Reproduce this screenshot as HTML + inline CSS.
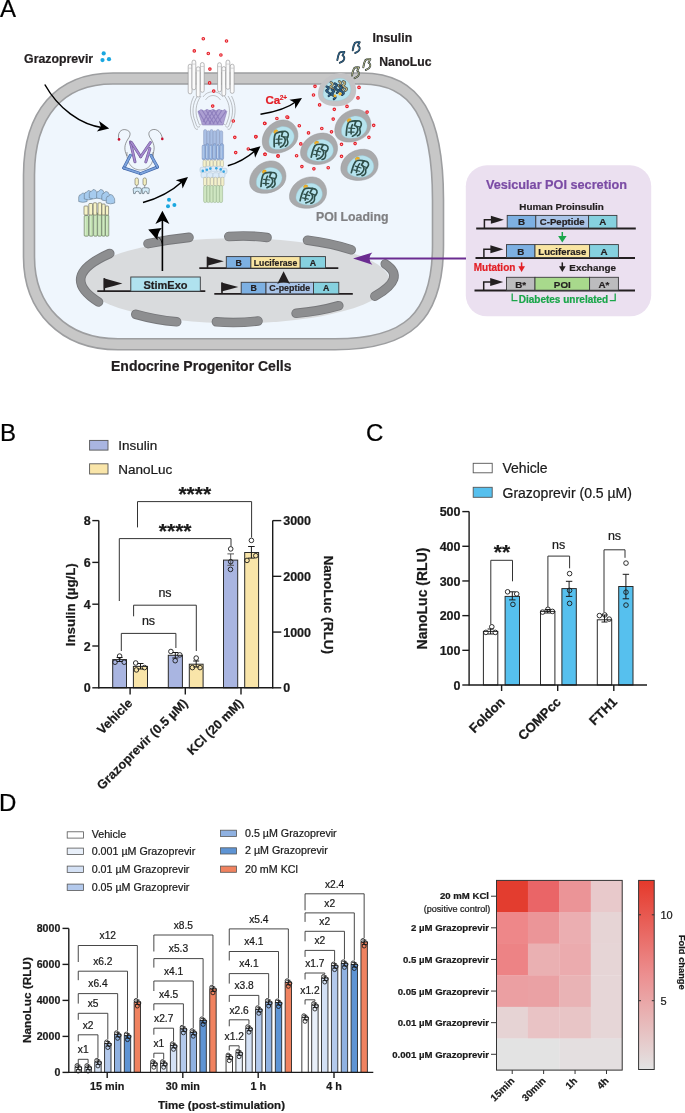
<!DOCTYPE html>
<html><head><meta charset="utf-8"><style>
html,body{margin:0;padding:0;background:#fff;-webkit-font-smoothing:antialiased;}
svg{display:block;will-change:transform;}
text{font-family:"Liberation Sans",sans-serif;}
</style></head><body>
<svg width="685" height="1113" viewBox="0 0 685 1113" font-family="Liberation Sans, sans-serif">
<rect width="685" height="1113" fill="#fff"/>
<text x="0.00" y="17.00" font-size="24" text-anchor="start" fill="#000" stroke="#000" stroke-width="0.22" >A</text>
<text x="24.10" y="63.40" font-size="12.3" font-weight="bold" text-anchor="start" fill="#231f20" stroke="#231f20" stroke-width="0.22" >Grazoprevir</text>
<circle cx="103.70" cy="53.40" r="2.1" fill="#1aa7e0" stroke="none" stroke-width="1" />
<circle cx="102.50" cy="60.10" r="2.1" fill="#1aa7e0" stroke="none" stroke-width="1" />
<circle cx="109.00" cy="59.20" r="2.1" fill="#1aa7e0" stroke="none" stroke-width="1" />
<path d="M29,175 C29,114 59.5,78.5 113,78.5 L362,78.5 C417,78.5 438,118 438,200 L438,245 C438,318 407,344.3 335,344.3 L118,344.3 C63,344.3 29,308 29,257 Z" fill="#eff6fd" stroke="#9d9ea0" stroke-width="12.6" />
<path d="M29,175 C29,114 59.5,78.5 113,78.5 L362,78.5 C417,78.5 438,118 438,200 L438,245 C438,318 407,344.3 335,344.3 L118,344.3 C63,344.3 29,308 29,257 Z" fill="none" stroke="#c7c7c7" stroke-width="9.4" />
<ellipse cx="236.5" cy="280.8" rx="153" ry="42.5" fill="#d9dbdd"/>
<path d="M109.7,253.5 Q57.90,276.25 98.5,302" fill="none" stroke="#76777a" stroke-width="9.6" stroke-linecap="round"/>
<path d="M109.7,253.5 Q57.90,276.25 98.5,302" fill="none" stroke="#8d8e90" stroke-width="7.8" stroke-linecap="round"/>
<path d="M148,243.6 Q168.50,239.50 189,237.4" fill="none" stroke="#76777a" stroke-width="9.6" stroke-linecap="round"/>
<path d="M148,243.6 Q168.50,239.50 189,237.4" fill="none" stroke="#8d8e90" stroke-width="7.8" stroke-linecap="round"/>
<path d="M228.8,236.5 Q248.10,235.00 267,237.5" fill="none" stroke="#76777a" stroke-width="9.6" stroke-linecap="round"/>
<path d="M228.8,236.5 Q248.10,235.00 267,237.5" fill="none" stroke="#8d8e90" stroke-width="7.8" stroke-linecap="round"/>
<path d="M307.5,240.2 Q330.65,243.05 351.2,249.7" fill="none" stroke="#76777a" stroke-width="9.6" stroke-linecap="round"/>
<path d="M307.5,240.2 Q330.65,243.05 351.2,249.7" fill="none" stroke="#8d8e90" stroke-width="7.8" stroke-linecap="round"/>
<path d="M385.3,263.9 Q406.90,277.95 374.9,296.2" fill="none" stroke="#76777a" stroke-width="9.6" stroke-linecap="round"/>
<path d="M385.3,263.9 Q406.90,277.95 374.9,296.2" fill="none" stroke="#8d8e90" stroke-width="7.8" stroke-linecap="round"/>
<path d="M296.1,313.3 Q318.55,311.50 338.8,305.7" fill="none" stroke="#76777a" stroke-width="9.6" stroke-linecap="round"/>
<path d="M296.1,313.3 Q318.55,311.50 338.8,305.7" fill="none" stroke="#8d8e90" stroke-width="7.8" stroke-linecap="round"/>
<path d="M216.4,321.8 Q236.80,323.60 258,321" fill="none" stroke="#76777a" stroke-width="9.6" stroke-linecap="round"/>
<path d="M216.4,321.8 Q236.80,323.60 258,321" fill="none" stroke="#8d8e90" stroke-width="7.8" stroke-linecap="round"/>
<path d="M135.8,314.3 Q155.75,319.95 176.7,321.8" fill="none" stroke="#76777a" stroke-width="9.6" stroke-linecap="round"/>
<path d="M135.8,314.3 Q155.75,319.95 176.7,321.8" fill="none" stroke="#8d8e90" stroke-width="7.8" stroke-linecap="round"/>
<line x1="97.30" y1="291.20" x2="205.30" y2="291.20" stroke="#231f20" stroke-width="1.8" />
<line x1="104.30" y1="291.20" x2="104.30" y2="278.20" stroke="#231f20" stroke-width="1.6" />
<path d="M103.8,278.2 L122.4,283.40 Q113.35,286.00 103.8,288.60 Z" fill="#231f20" stroke="none" stroke-width="1" />
<rect x="130.80" y="277.00" width="69.50" height="14.20" fill="#b0e2ef" stroke="#3a3a3c" stroke-width="0.9" />
<text x="165.55" y="288.60" font-size="11" font-weight="bold" text-anchor="middle" fill="#231f20" stroke="#231f20" stroke-width="0.22" >StimExo</text>
<line x1="162.40" y1="271.00" x2="162.40" y2="216.00" stroke="#000" stroke-width="1.6" />
<path d="M162.40,210.70 L169.40,223.90 L162.40,220.60 L155.40,223.90 Z" fill="#000" stroke="none" stroke-width="1" />
<path d="M161.8,228 L148.2,229.5 L157.5,240.3 Q157.3,233 161.8,228 Z" fill="#000" stroke="none" stroke-width="1" />
<path d="M158,236.5 Q161.5,239 162.4,244" fill="none" stroke="#000" stroke-width="0.8" />
<line x1="199.30" y1="268.10" x2="338.30" y2="268.10" stroke="#231f20" stroke-width="1.8" />
<line x1="207.50" y1="268.10" x2="207.50" y2="256.70" stroke="#231f20" stroke-width="1.6" />
<path d="M207.0,256.70000000000005 L223.8,261.26 Q215.65,263.54 207.0,265.82 Z" fill="#231f20" stroke="none" stroke-width="1" />
<rect x="226.30" y="256.60" width="24.60" height="11.50" fill="#7db0e2" stroke="#3a3a3c" stroke-width="0.9" />
<text x="238.60" y="265.50" font-size="8.8" font-weight="bold" text-anchor="middle" fill="#231f20" stroke="#231f20" stroke-width="0.22" >B</text>
<rect x="250.90" y="256.60" width="49.30" height="11.50" fill="#f9e5a2" stroke="#3a3a3c" stroke-width="0.9" />
<text x="275.55" y="265.50" font-size="8.7" font-weight="bold" text-anchor="middle" fill="#231f20" stroke="#231f20" stroke-width="0.22" >Luciferase</text>
<rect x="300.20" y="256.60" width="25.30" height="11.50" fill="#86d1df" stroke="#3a3a3c" stroke-width="0.9" />
<text x="312.85" y="265.50" font-size="8.8" font-weight="bold" text-anchor="middle" fill="#231f20" stroke="#231f20" stroke-width="0.22" >A</text>
<line x1="214.30" y1="293.90" x2="352.80" y2="293.90" stroke="#231f20" stroke-width="1.8" />
<line x1="222.00" y1="293.90" x2="222.00" y2="282.50" stroke="#231f20" stroke-width="1.6" />
<path d="M221.5,282.5 L238.3,287.06 Q230.15,289.34 221.5,291.62 Z" fill="#231f20" stroke="none" stroke-width="1" />
<rect x="241.20" y="282.30" width="24.80" height="11.60" fill="#7db0e2" stroke="#3a3a3c" stroke-width="0.9" />
<text x="253.60" y="291.30" font-size="8.8" font-weight="bold" text-anchor="middle" fill="#231f20" stroke="#231f20" stroke-width="0.22" >B</text>
<rect x="266.00" y="282.30" width="47.50" height="11.60" fill="#a9c4e8" stroke="#3a3a3c" stroke-width="0.9" />
<text x="289.75" y="291.30" font-size="8.9" font-weight="bold" text-anchor="middle" fill="#231f20" stroke="#231f20" stroke-width="0.22" >C-peptide</text>
<rect x="313.50" y="282.30" width="25.30" height="11.60" fill="#86d1df" stroke="#3a3a3c" stroke-width="0.9" />
<text x="326.15" y="291.30" font-size="8.8" font-weight="bold" text-anchor="middle" fill="#231f20" stroke="#231f20" stroke-width="0.22" >A</text>
<path d="M283.6,271.3 L290,284 Q283.6,280 277.2,284 Z" fill="#231f20" stroke="none" stroke-width="1" />
<path d="M194,96 C189.5,104 189.5,114 192.5,121 C194.5,127 195,130.5 198,129.0" fill="none" stroke="#8e8f91" stroke-width="0.55" />
<path d="M231.5,96 C236.0,104 236.0,114 233.0,121 C231.0,127 230.5,130.5 227.5,129.0" fill="none" stroke="#8e8f91" stroke-width="0.55" />
<path d="M197.5,96 C192,104 192,114 195,121 C197,127 197,128 200,126.5" fill="none" stroke="#8e8f91" stroke-width="0.55" />
<path d="M228.0,96 C233.5,104 233.5,114 230.5,121 C228.5,127 228.5,128 225.5,126.5" fill="none" stroke="#8e8f91" stroke-width="0.55" />
<path d="M201,96 C195,104 195,114 198,121 C200,127 199.5,125 202.5,123.5" fill="none" stroke="#8e8f91" stroke-width="0.55" />
<path d="M224.5,96 C230.5,104 230.5,114 227.5,121 C225.5,127 226.0,125 223.0,123.5" fill="none" stroke="#8e8f91" stroke-width="0.55" />
<path d="M203,97 C207,90 219,90 223,97" fill="none" stroke="#8e8f91" stroke-width="0.5" />
<path d="M205.5,100 C209,94 217,94 220.5,100" fill="none" stroke="#8e8f91" stroke-width="0.5" />
<path d="M197.9,111.5 L201,109.5 L204,111 L207,109.3 L210,110.8 L213,109.2 L216,110.8 L219,109.3 L222,110.8 L225,109.5 L226.8,111.5 L223,125 L202.5,125 Z" fill="#ac9fd2" stroke="#8374b0" stroke-width="0.5" />
<line x1="198.50" y1="111.00" x2="206.00" y2="124.00" stroke="#8e7fbd" stroke-width="1.1" />
<line x1="202.00" y1="110.00" x2="211.00" y2="124.00" stroke="#8e7fbd" stroke-width="1.1" />
<line x1="206.00" y1="110.00" x2="214.00" y2="124.00" stroke="#8e7fbd" stroke-width="1.1" />
<line x1="210.00" y1="110.00" x2="218.00" y2="124.00" stroke="#8e7fbd" stroke-width="1.1" />
<line x1="214.00" y1="110.00" x2="221.50" y2="123.00" stroke="#8e7fbd" stroke-width="1.1" />
<line x1="226.00" y1="111.00" x2="217.00" y2="124.00" stroke="#8e7fbd" stroke-width="1.1" />
<line x1="222.00" y1="110.00" x2="213.00" y2="124.00" stroke="#8e7fbd" stroke-width="1.1" />
<line x1="218.00" y1="110.00" x2="209.00" y2="124.00" stroke="#8e7fbd" stroke-width="1.1" />
<line x1="214.00" y1="110.00" x2="205.00" y2="124.00" stroke="#8e7fbd" stroke-width="1.1" />
<line x1="210.00" y1="110.00" x2="203.00" y2="122.00" stroke="#8e7fbd" stroke-width="1.1" />
<rect x="203.60" y="129.50" width="3.10" height="15.50" fill="#a9bfe4" stroke="#7f8fb5" stroke-width="0.45" rx="1.55"/>
<rect x="206.80" y="130.70" width="3.10" height="14.30" fill="#a9bfe4" stroke="#7f8fb5" stroke-width="0.45" rx="1.55"/>
<rect x="210.00" y="129.50" width="3.10" height="15.50" fill="#a9bfe4" stroke="#7f8fb5" stroke-width="0.45" rx="1.55"/>
<rect x="213.20" y="130.70" width="3.10" height="14.30" fill="#a9bfe4" stroke="#7f8fb5" stroke-width="0.45" rx="1.55"/>
<rect x="216.40" y="129.50" width="3.10" height="15.50" fill="#a9bfe4" stroke="#7f8fb5" stroke-width="0.45" rx="1.55"/>
<rect x="219.60" y="130.70" width="3.10" height="14.30" fill="#a9bfe4" stroke="#7f8fb5" stroke-width="0.45" rx="1.55"/>
<rect x="202.10" y="144.80" width="3.50" height="15.20" fill="#93b2df" stroke="#6f82ad" stroke-width="0.45" rx="1.75"/>
<line x1="203.10" y1="146.00" x2="203.10" y2="158.00" stroke="#dce8f7" stroke-width="0.6" />
<rect x="205.70" y="143.60" width="3.50" height="16.40" fill="#93b2df" stroke="#6f82ad" stroke-width="0.45" rx="1.75"/>
<line x1="206.70" y1="146.00" x2="206.70" y2="158.00" stroke="#dce8f7" stroke-width="0.6" />
<rect x="209.30" y="144.80" width="3.50" height="15.20" fill="#93b2df" stroke="#6f82ad" stroke-width="0.45" rx="1.75"/>
<line x1="210.30" y1="146.00" x2="210.30" y2="158.00" stroke="#dce8f7" stroke-width="0.6" />
<rect x="212.90" y="143.60" width="3.50" height="16.40" fill="#93b2df" stroke="#6f82ad" stroke-width="0.45" rx="1.75"/>
<line x1="213.90" y1="146.00" x2="213.90" y2="158.00" stroke="#dce8f7" stroke-width="0.6" />
<rect x="216.50" y="144.80" width="3.50" height="15.20" fill="#93b2df" stroke="#6f82ad" stroke-width="0.45" rx="1.75"/>
<line x1="217.50" y1="146.00" x2="217.50" y2="158.00" stroke="#dce8f7" stroke-width="0.6" />
<rect x="220.10" y="143.60" width="3.50" height="16.40" fill="#93b2df" stroke="#6f82ad" stroke-width="0.45" rx="1.75"/>
<line x1="221.10" y1="146.00" x2="221.10" y2="158.00" stroke="#dce8f7" stroke-width="0.6" />
<rect x="203.00" y="160.00" width="3.00" height="7.00" fill="#f4f1cc" stroke="#a7a48a" stroke-width="0.45" rx="1.5"/>
<rect x="206.50" y="160.00" width="3.00" height="7.00" fill="#f4f1cc" stroke="#a7a48a" stroke-width="0.45" rx="1.5"/>
<rect x="210.00" y="160.00" width="3.00" height="7.00" fill="#f4f1cc" stroke="#a7a48a" stroke-width="0.45" rx="1.5"/>
<rect x="213.50" y="160.00" width="3.00" height="7.00" fill="#f4f1cc" stroke="#a7a48a" stroke-width="0.45" rx="1.5"/>
<rect x="217.00" y="160.00" width="3.00" height="7.00" fill="#f4f1cc" stroke="#a7a48a" stroke-width="0.45" rx="1.5"/>
<rect x="220.50" y="160.00" width="3.00" height="7.00" fill="#f4f1cc" stroke="#a7a48a" stroke-width="0.45" rx="1.5"/>
<rect x="200.00" y="167.20" width="6.00" height="5.60" fill="#dbeaf8" stroke="#a5bccf" stroke-width="0.45" rx="1.8"/>
<rect x="205.50" y="166.20" width="6.00" height="5.60" fill="#dbeaf8" stroke="#a5bccf" stroke-width="0.45" rx="1.8"/>
<rect x="211.00" y="166.20" width="6.00" height="5.60" fill="#dbeaf8" stroke="#a5bccf" stroke-width="0.45" rx="1.8"/>
<rect x="216.50" y="166.20" width="6.00" height="5.60" fill="#dbeaf8" stroke="#a5bccf" stroke-width="0.45" rx="1.8"/>
<rect x="221.00" y="168.20" width="6.00" height="5.60" fill="#dbeaf8" stroke="#a5bccf" stroke-width="0.45" rx="1.8"/>
<rect x="201.00" y="172.20" width="6.00" height="5.60" fill="#dbeaf8" stroke="#a5bccf" stroke-width="0.45" rx="1.8"/>
<rect x="207.00" y="172.70" width="6.00" height="5.60" fill="#dbeaf8" stroke="#a5bccf" stroke-width="0.45" rx="1.8"/>
<rect x="213.00" y="172.70" width="6.00" height="5.60" fill="#dbeaf8" stroke="#a5bccf" stroke-width="0.45" rx="1.8"/>
<rect x="219.00" y="172.20" width="6.00" height="5.60" fill="#dbeaf8" stroke="#a5bccf" stroke-width="0.45" rx="1.8"/>
<circle cx="202.80" cy="170.90" r="1.3" fill="#37a7e2" stroke="none" stroke-width="1" />
<circle cx="206.90" cy="169.80" r="1.3" fill="#37a7e2" stroke="none" stroke-width="1" />
<circle cx="210.30" cy="168.60" r="1.3" fill="#37a7e2" stroke="none" stroke-width="1" />
<circle cx="216.30" cy="168.30" r="1.3" fill="#37a7e2" stroke="none" stroke-width="1" />
<circle cx="220.70" cy="169.40" r="1.3" fill="#37a7e2" stroke="none" stroke-width="1" />
<circle cx="223.70" cy="171.60" r="1.3" fill="#37a7e2" stroke="none" stroke-width="1" />
<rect x="203.50" y="177.20" width="3.00" height="8.80" fill="#f4f1cc" stroke="#a7a48a" stroke-width="0.45" rx="1.5"/>
<rect x="207.00" y="177.20" width="3.00" height="8.80" fill="#f4f1cc" stroke="#a7a48a" stroke-width="0.45" rx="1.5"/>
<rect x="210.50" y="177.20" width="3.00" height="8.80" fill="#f4f1cc" stroke="#a7a48a" stroke-width="0.45" rx="1.5"/>
<rect x="214.00" y="177.20" width="3.00" height="8.80" fill="#f4f1cc" stroke="#a7a48a" stroke-width="0.45" rx="1.5"/>
<rect x="217.50" y="177.20" width="3.00" height="8.80" fill="#f4f1cc" stroke="#a7a48a" stroke-width="0.45" rx="1.5"/>
<rect x="221.00" y="177.20" width="3.00" height="8.80" fill="#f4f1cc" stroke="#a7a48a" stroke-width="0.45" rx="1.5"/>
<rect x="203.60" y="185.40" width="3.20" height="17.20" fill="#cfe6c2" stroke="#8aa77e" stroke-width="0.45" rx="1.6"/>
<rect x="206.80" y="185.40" width="3.20" height="17.20" fill="#cfe6c2" stroke="#8aa77e" stroke-width="0.45" rx="1.6"/>
<rect x="210.00" y="185.40" width="3.20" height="17.20" fill="#cfe6c2" stroke="#8aa77e" stroke-width="0.45" rx="1.6"/>
<rect x="213.20" y="185.40" width="3.20" height="17.20" fill="#cfe6c2" stroke="#8aa77e" stroke-width="0.45" rx="1.6"/>
<rect x="216.40" y="185.40" width="3.20" height="17.20" fill="#cfe6c2" stroke="#8aa77e" stroke-width="0.45" rx="1.6"/>
<rect x="219.40" y="185.40" width="3.20" height="17.20" fill="#cfe6c2" stroke="#8aa77e" stroke-width="0.45" rx="1.6"/>
<rect x="188.20" y="64.20" width="3.80" height="29.70" fill="#fafafa" stroke="#8e8f91" stroke-width="0.6" rx="1.9"/>
<line x1="188.50" y1="68.20" x2="191.70" y2="68.20" stroke="#b0b1b3" stroke-width="0.5" />
<rect x="192.00" y="60.10" width="3.80" height="29.70" fill="#fafafa" stroke="#8e8f91" stroke-width="0.6" rx="1.9"/>
<line x1="192.30" y1="64.10" x2="195.50" y2="64.10" stroke="#b0b1b3" stroke-width="0.5" />
<rect x="196.30" y="66.80" width="3.80" height="30.20" fill="#fafafa" stroke="#8e8f91" stroke-width="0.6" rx="1.9"/>
<line x1="196.60" y1="70.80" x2="199.80" y2="70.80" stroke="#b0b1b3" stroke-width="0.5" />
<rect x="200.40" y="62.50" width="3.80" height="29.80" fill="#fafafa" stroke="#8e8f91" stroke-width="0.6" rx="1.9"/>
<line x1="200.70" y1="66.50" x2="203.90" y2="66.50" stroke="#b0b1b3" stroke-width="0.5" />
<rect x="217.60" y="62.70" width="3.80" height="29.10" fill="#fafafa" stroke="#8e8f91" stroke-width="0.6" rx="1.9"/>
<line x1="217.90" y1="66.70" x2="221.10" y2="66.70" stroke="#b0b1b3" stroke-width="0.5" />
<rect x="221.90" y="66.60" width="3.80" height="29.30" fill="#fafafa" stroke="#8e8f91" stroke-width="0.6" rx="1.9"/>
<line x1="222.20" y1="70.60" x2="225.40" y2="70.60" stroke="#b0b1b3" stroke-width="0.5" />
<rect x="226.00" y="60.10" width="3.80" height="29.20" fill="#fafafa" stroke="#8e8f91" stroke-width="0.6" rx="1.9"/>
<line x1="226.30" y1="64.10" x2="229.50" y2="64.10" stroke="#b0b1b3" stroke-width="0.5" />
<rect x="230.30" y="64.20" width="3.80" height="29.20" fill="#fafafa" stroke="#8e8f91" stroke-width="0.6" rx="1.9"/>
<line x1="230.60" y1="68.20" x2="233.80" y2="68.20" stroke="#b0b1b3" stroke-width="0.5" />
<path d="M119,139.4 C117,133 121,128.5 126,129.8 C131,131 131,135 128,139 C124,145 124,150 127,156" fill="none" stroke="#555" stroke-width="0.6" />
<path d="M162.3,138.9 C162,133 157,128 152,129.8 C148,131.5 148,135 151,139 C155,145 155,150 152,156" fill="none" stroke="#555" stroke-width="0.6" />
<circle cx="119.00" cy="139.40" r="1.3" fill="#c8102e" stroke="none" stroke-width="1" />
<circle cx="162.30" cy="138.90" r="1.3" fill="#c8102e" stroke="none" stroke-width="1" />
<path d="M127,152 C126,165 134,170 140.5,170 C147,170 155,165 153,152" fill="none" stroke="#555" stroke-width="0.5" />
<line x1="130.40" y1="142.00" x2="135.00" y2="161.90" stroke="#6f5a96" stroke-width="2.9" stroke-linecap="round"/>
<line x1="130.40" y1="142.00" x2="135.00" y2="161.90" stroke="#a58ad0" stroke-width="1.7" stroke-linecap="round"/>
<line x1="131.50" y1="142.50" x2="140.70" y2="156.80" stroke="#6f5a96" stroke-width="2.9" stroke-linecap="round"/>
<line x1="131.50" y1="142.50" x2="140.70" y2="156.80" stroke="#a58ad0" stroke-width="1.7" stroke-linecap="round"/>
<line x1="150.40" y1="142.50" x2="140.70" y2="156.80" stroke="#6f5a96" stroke-width="2.9" stroke-linecap="round"/>
<line x1="150.40" y1="142.50" x2="140.70" y2="156.80" stroke="#a58ad0" stroke-width="1.7" stroke-linecap="round"/>
<line x1="149.90" y1="148.60" x2="145.80" y2="161.90" stroke="#6f5a96" stroke-width="2.9" stroke-linecap="round"/>
<line x1="149.90" y1="148.60" x2="145.80" y2="161.90" stroke="#a58ad0" stroke-width="1.7" stroke-linecap="round"/>
<line x1="130.40" y1="155.30" x2="123.80" y2="168.00" stroke="#3e64a8" stroke-width="3.0" stroke-linecap="round"/>
<line x1="130.40" y1="155.30" x2="123.80" y2="168.00" stroke="#7ea4dc" stroke-width="1.8" stroke-linecap="round"/>
<line x1="123.80" y1="168.00" x2="140.70" y2="173.60" stroke="#3e64a8" stroke-width="3.0" stroke-linecap="round"/>
<line x1="123.80" y1="168.00" x2="140.70" y2="173.60" stroke="#7ea4dc" stroke-width="1.8" stroke-linecap="round"/>
<line x1="140.70" y1="173.60" x2="157.50" y2="167.00" stroke="#3e64a8" stroke-width="3.0" stroke-linecap="round"/>
<line x1="140.70" y1="173.60" x2="157.50" y2="167.00" stroke="#7ea4dc" stroke-width="1.8" stroke-linecap="round"/>
<line x1="157.50" y1="167.00" x2="150.90" y2="155.30" stroke="#3e64a8" stroke-width="3.0" stroke-linecap="round"/>
<line x1="157.50" y1="167.00" x2="150.90" y2="155.30" stroke="#7ea4dc" stroke-width="1.8" stroke-linecap="round"/>
<rect x="135.00" y="177.90" width="3.40" height="7.50" fill="#f4efc0" stroke="#5f5e50" stroke-width="0.55" rx="1.7"/>
<rect x="143.00" y="177.90" width="3.40" height="7.50" fill="#f4efc0" stroke="#5f5e50" stroke-width="0.55" rx="1.7"/>
<line x1="136.70" y1="185.40" x2="136.70" y2="188.00" stroke="#555" stroke-width="0.5" />
<line x1="144.70" y1="185.40" x2="144.70" y2="188.00" stroke="#555" stroke-width="0.5" />
<path d="M133.2,189.3 Q133.2,187.8 135.0,187.8 L139.6,187.8 Q141.4,187.8 141.4,189.3 L141.0,193.6 L139.4,193.6 L139.0,191.79999999999998 Q137.3,190.6 135.6,191.79999999999998 L135.2,193.6 L133.6,193.6 Z" fill="#d3ebf8" stroke="#3d4a55" stroke-width="0.55" />
<path d="M142,189.3 Q142,187.8 143.8,187.8 L147.5,187.8 Q149.3,187.8 149.3,189.3 L148.9,193.6 L147.3,193.6 L146.9,191.79999999999998 Q145.65,190.6 144.4,191.79999999999998 L144,193.6 L142.4,193.6 Z" fill="#d3ebf8" stroke="#3d4a55" stroke-width="0.55" />
<rect x="84.20" y="215.50" width="4.30" height="20.70" fill="#c3e3b3" stroke="#5f6e58" stroke-width="0.6" rx="1"/>
<line x1="85.40" y1="217.00" x2="85.40" y2="235.00" stroke="#e3f2da" stroke-width="0.6" />
<rect x="89.10" y="213.50" width="4.00" height="22.70" fill="#c3e3b3" stroke="#5f6e58" stroke-width="0.6" rx="1"/>
<line x1="90.30" y1="215.00" x2="90.30" y2="235.00" stroke="#e3f2da" stroke-width="0.6" />
<rect x="93.70" y="212.50" width="3.60" height="23.70" fill="#c3e3b3" stroke="#5f6e58" stroke-width="0.6" rx="1"/>
<line x1="94.90" y1="214.00" x2="94.90" y2="235.00" stroke="#e3f2da" stroke-width="0.6" />
<rect x="97.70" y="212.50" width="3.90" height="23.70" fill="#c3e3b3" stroke="#5f6e58" stroke-width="0.6" rx="1"/>
<line x1="98.90" y1="214.00" x2="98.90" y2="235.00" stroke="#e3f2da" stroke-width="0.6" />
<rect x="101.90" y="213.50" width="3.30" height="22.70" fill="#c3e3b3" stroke="#5f6e58" stroke-width="0.6" rx="1"/>
<line x1="103.10" y1="215.00" x2="103.10" y2="235.00" stroke="#e3f2da" stroke-width="0.6" />
<rect x="105.50" y="215.00" width="3.30" height="21.20" fill="#c3e3b3" stroke="#5f6e58" stroke-width="0.6" rx="1"/>
<line x1="106.70" y1="216.50" x2="106.70" y2="235.00" stroke="#e3f2da" stroke-width="0.6" />
<rect x="84.00" y="206.00" width="4.00" height="9.00" fill="#f6f3c6" stroke="#5f5e50" stroke-width="0.6" rx="0.8"/>
<rect x="88.80" y="203.50" width="3.80" height="11.50" fill="#f6f3c6" stroke="#5f5e50" stroke-width="0.6" rx="0.8"/>
<rect x="93.20" y="202.80" width="3.60" height="12.20" fill="#f6f3c6" stroke="#5f5e50" stroke-width="0.6" rx="0.8"/>
<rect x="98.00" y="202.80" width="3.60" height="12.20" fill="#f6f3c6" stroke="#5f5e50" stroke-width="0.6" rx="0.8"/>
<rect x="101.90" y="204.00" width="3.30" height="11.00" fill="#f6f3c6" stroke="#5f5e50" stroke-width="0.6" rx="0.8"/>
<rect x="105.50" y="206.00" width="3.10" height="9.00" fill="#f6f3c6" stroke="#5f5e50" stroke-width="0.6" rx="0.8"/>
<path d="M78.7,201.5 L78.7,197 Q79.4,194 80.9,194.8 Q82.4,192.2 83.7,193.2 Q85.5,193.5 85.9,195.5 Q87.30000000000001,196.5 87.10000000000001,199 L87.10000000000001,201.5 Q82.9,203.2 78.7,201.5 Z" fill="#a6cbee" stroke="#5d6f80" stroke-width="0.55" />
<path d="M84.3,199.0 L84.3,194.5 Q85.0,191.5 86.5,192.3 Q88.0,189.7 89.3,190.7 Q91.1,191.0 91.5,193.0 Q92.9,194.0 92.7,196.5 L92.7,199.0 Q88.5,200.7 84.3,199.0 Z" fill="#a6cbee" stroke="#5d6f80" stroke-width="0.55" />
<path d="M89.3,198.0 L89.3,193.5 Q90.0,190.5 91.5,191.3 Q93.0,188.7 94.3,189.7 Q96.1,190.0 96.5,192.0 Q97.9,193.0 97.7,195.5 L97.7,198.0 Q93.5,199.7 89.3,198.0 Z" fill="#a6cbee" stroke="#5d6f80" stroke-width="0.55" />
<path d="M96.6,198.0 L96.6,193.5 Q97.3,190.5 98.8,191.3 Q100.3,188.7 101.6,189.7 Q103.39999999999999,190.0 103.8,192.0 Q105.2,193.0 105.0,195.5 L105.0,198.0 Q100.8,199.7 96.6,198.0 Z" fill="#a6cbee" stroke="#5d6f80" stroke-width="0.55" />
<path d="M101.8,200.0 L101.8,195.5 Q102.5,192.5 104,193.3 Q105.5,190.7 106.8,191.7 Q108.6,192.0 109,194.0 Q110.4,195.0 110.2,197.5 L110.2,200.0 Q106,201.7 101.8,200.0 Z" fill="#a6cbee" stroke="#5d6f80" stroke-width="0.55" />
<path d="M106.3,203.0 L106.3,198.5 Q107.0,195.5 108.5,196.3 Q110.0,193.7 111.3,194.7 Q113.1,195.0 113.5,197.0 Q114.9,198.0 114.7,200.5 L114.7,203.0 Q110.5,204.7 106.3,203.0 Z" fill="#a6cbee" stroke="#5d6f80" stroke-width="0.55" />
<g transform="translate(337,89.7) rotate(0) scale(1.03)">
<path d="M-18.4,4 C-18.4,-8 -6,-16.1 4,-16.1 C13,-16.1 18.6,-8 18.6,1 C18.6,10 10,16.1 0,16.1 C-11,16.1 -18.4,12 -18.4,4 Z" fill="#c3c3c5" stroke="none" stroke-width="1" />
<path d="M-13.5,4.5 C-13.5,-4 -5,-11 3,-11 C10,-11 13.4,-5 13.4,0 C13.4,7 6,10.8 -1,10.8 C-9,10.8 -13.5,9.5 -13.5,4.5 Z" fill="#b6e3ee" stroke="#98c4cf" stroke-width="0.4" />
<path d="M-10,-3 q3,1 1,3 q-3,1 1,3 q3,1 0,3" fill="none" stroke="#1f2f3a" stroke-width="2.3" stroke-linecap="round"/>
<path d="M-10,-3 q3,1 1,3 q-3,1 1,3 q3,1 0,3" fill="none" stroke="#2d5f86" stroke-width="1.4" stroke-linecap="round"/>
<path d="M-6,-7 q3,1 1,3 q-3,1 1,3 q3,1 0,3" fill="none" stroke="#1f2f3a" stroke-width="2.3" stroke-linecap="round"/>
<path d="M-6,-7 q3,1 1,3 q-3,1 1,3 q3,1 0,3" fill="none" stroke="#c2b27c" stroke-width="1.4" stroke-linecap="round"/>
<path d="M-2,-6 q3,1 1,3 q-3,1 1,3 q3,1 0,3" fill="none" stroke="#1f2f3a" stroke-width="2.3" stroke-linecap="round"/>
<path d="M-2,-6 q3,1 1,3 q-3,1 1,3 q3,1 0,3" fill="none" stroke="#2d5f86" stroke-width="1.4" stroke-linecap="round"/>
<path d="M2,-8 q3,1 1,3 q-3,1 1,3 q3,1 0,3" fill="none" stroke="#1f2f3a" stroke-width="2.3" stroke-linecap="round"/>
<path d="M2,-8 q3,1 1,3 q-3,1 1,3 q3,1 0,3" fill="none" stroke="#c2b27c" stroke-width="1.4" stroke-linecap="round"/>
<path d="M-5,0 q3,1 1,3 q-3,1 1,3 q3,1 0,3" fill="none" stroke="#1f2f3a" stroke-width="2.3" stroke-linecap="round"/>
<path d="M-5,0 q3,1 1,3 q-3,1 1,3 q3,1 0,3" fill="none" stroke="#2d5f86" stroke-width="1.4" stroke-linecap="round"/>
<path d="M3,-4 q3,1 1,3 q-3,1 1,3 q3,1 0,3" fill="none" stroke="#1f2f3a" stroke-width="2.3" stroke-linecap="round"/>
<path d="M3,-4 q3,1 1,3 q-3,1 1,3 q3,1 0,3" fill="none" stroke="#2d5f86" stroke-width="1.4" stroke-linecap="round"/>
<path d="M6,-8 q3,1 1,3 q-3,1 1,3 q3,1 0,3" fill="none" stroke="#1f2f3a" stroke-width="2.3" stroke-linecap="round"/>
<path d="M6,-8 q3,1 1,3 q-3,1 1,3 q3,1 0,3" fill="none" stroke="#c2b27c" stroke-width="1.4" stroke-linecap="round"/>
<circle cx="3.00" cy="4.00" r="1.6" fill="#f0b429" stroke="none" stroke-width="1" />
<circle cx="-2.00" cy="6.00" r="1.4" fill="#f0b429" stroke="none" stroke-width="1" />
</g>
<g transform="translate(279.6,136.6) rotate(-10) scale(1.0)">
<path d="M-18,6 C-19,-4 -10,-15 3,-16 C13,-16.5 19,-8 18.5,0 C18,9 10,15 -1,16 C-10,16.5 -17.5,13 -18,6 Z" fill="#a9aaac" stroke="#9a9b9d" stroke-width="0.5" />
<path d="M-11.5,6 C-12,-1 -5,-9.5 3,-9.5 C9,-9.5 14.5,-5 14.5,1 C14.5,7 8,12.5 1,12.5 C-6,12.5 -11.2,11 -11.5,6 Z" fill="#b6e3ee" stroke="#98c4cf" stroke-width="0.4" />
<path d="M-7,9 C-6.5,5 -6,0 -4,-3 C-2,-5 1,-4.5 4,-4.5 L2,0 C5,1 6,4 4,7 C3,9 1,10 -1,10.5" fill="none" stroke="#2f4f4a" stroke-width="1.7" stroke-linecap="round" stroke-linejoin="round"/>
<path d="M-2,8 C-2,4 -1.5,1 0,-1 M3,-4 C6,-5 9,-4 9,-1 C9,2 6,2 7,5 C8,8 6,10 4,10.5" fill="none" stroke="#2f4f4a" stroke-width="1.6" stroke-linecap="round" stroke-linejoin="round"/>
<path d="M-4,2 L2,3 M-5,6 L1,6.5 M4,1 L8,2" fill="none" stroke="#2f4f4a" stroke-width="1.2" stroke-linecap="round"/>
<path d="M-5.2,-5.2 q1.2,-3.2 4,-1.8 q0.7,1 -0.2,1.8 q-1.6,-0.9 -2.6,1.4 z" fill="#f5b325" stroke="#c98a10" stroke-width="0.4" />
</g>
<g transform="translate(319,148.7) rotate(5) scale(1.0)">
<path d="M-18,6 C-19,-4 -10,-15 3,-16 C13,-16.5 19,-8 18.5,0 C18,9 10,15 -1,16 C-10,16.5 -17.5,13 -18,6 Z" fill="#a9aaac" stroke="#9a9b9d" stroke-width="0.5" />
<path d="M-11.5,6 C-12,-1 -5,-9.5 3,-9.5 C9,-9.5 14.5,-5 14.5,1 C14.5,7 8,12.5 1,12.5 C-6,12.5 -11.2,11 -11.5,6 Z" fill="#b6e3ee" stroke="#98c4cf" stroke-width="0.4" />
<path d="M-7,9 C-6.5,5 -6,0 -4,-3 C-2,-5 1,-4.5 4,-4.5 L2,0 C5,1 6,4 4,7 C3,9 1,10 -1,10.5" fill="none" stroke="#2f4f4a" stroke-width="1.7" stroke-linecap="round" stroke-linejoin="round"/>
<path d="M-2,8 C-2,4 -1.5,1 0,-1 M3,-4 C6,-5 9,-4 9,-1 C9,2 6,2 7,5 C8,8 6,10 4,10.5" fill="none" stroke="#2f4f4a" stroke-width="1.6" stroke-linecap="round" stroke-linejoin="round"/>
<path d="M-4,2 L2,3 M-5,6 L1,6.5 M4,1 L8,2" fill="none" stroke="#2f4f4a" stroke-width="1.2" stroke-linecap="round"/>
<path d="M-5.2,-5.2 q1.2,-3.2 4,-1.8 q0.7,1 -0.2,1.8 q-1.6,-0.9 -2.6,1.4 z" fill="#f5b325" stroke="#c98a10" stroke-width="0.4" />
</g>
<g transform="translate(352.5,125.7) rotate(-5) scale(1.0)">
<path d="M-18,6 C-19,-4 -10,-15 3,-16 C13,-16.5 19,-8 18.5,0 C18,9 10,15 -1,16 C-10,16.5 -17.5,13 -18,6 Z" fill="#a9aaac" stroke="#9a9b9d" stroke-width="0.5" />
<path d="M-11.5,6 C-12,-1 -5,-9.5 3,-9.5 C9,-9.5 14.5,-5 14.5,1 C14.5,7 8,12.5 1,12.5 C-6,12.5 -11.2,11 -11.5,6 Z" fill="#b6e3ee" stroke="#98c4cf" stroke-width="0.4" />
<path d="M-7,9 C-6.5,5 -6,0 -4,-3 C-2,-5 1,-4.5 4,-4.5 L2,0 C5,1 6,4 4,7 C3,9 1,10 -1,10.5" fill="none" stroke="#2f4f4a" stroke-width="1.7" stroke-linecap="round" stroke-linejoin="round"/>
<path d="M-2,8 C-2,4 -1.5,1 0,-1 M3,-4 C6,-5 9,-4 9,-1 C9,2 6,2 7,5 C8,8 6,10 4,10.5" fill="none" stroke="#2f4f4a" stroke-width="1.6" stroke-linecap="round" stroke-linejoin="round"/>
<path d="M-4,2 L2,3 M-5,6 L1,6.5 M4,1 L8,2" fill="none" stroke="#2f4f4a" stroke-width="1.2" stroke-linecap="round"/>
<path d="M-5.2,-5.2 q1.2,-3.2 4,-1.8 q0.7,1 -0.2,1.8 q-1.6,-0.9 -2.6,1.4 z" fill="#f5b325" stroke="#c98a10" stroke-width="0.4" />
</g>
<g transform="translate(359.5,164.7) rotate(8) scale(1.0)">
<path d="M-18,6 C-19,-4 -10,-15 3,-16 C13,-16.5 19,-8 18.5,0 C18,9 10,15 -1,16 C-10,16.5 -17.5,13 -18,6 Z" fill="#a9aaac" stroke="#9a9b9d" stroke-width="0.5" />
<path d="M-11.5,6 C-12,-1 -5,-9.5 3,-9.5 C9,-9.5 14.5,-5 14.5,1 C14.5,7 8,12.5 1,12.5 C-6,12.5 -11.2,11 -11.5,6 Z" fill="#b6e3ee" stroke="#98c4cf" stroke-width="0.4" />
<path d="M-7,9 C-6.5,5 -6,0 -4,-3 C-2,-5 1,-4.5 4,-4.5 L2,0 C5,1 6,4 4,7 C3,9 1,10 -1,10.5" fill="none" stroke="#2f4f4a" stroke-width="1.7" stroke-linecap="round" stroke-linejoin="round"/>
<path d="M-2,8 C-2,4 -1.5,1 0,-1 M3,-4 C6,-5 9,-4 9,-1 C9,2 6,2 7,5 C8,8 6,10 4,10.5" fill="none" stroke="#2f4f4a" stroke-width="1.6" stroke-linecap="round" stroke-linejoin="round"/>
<path d="M-4,2 L2,3 M-5,6 L1,6.5 M4,1 L8,2" fill="none" stroke="#2f4f4a" stroke-width="1.2" stroke-linecap="round"/>
<path d="M-5.2,-5.2 q1.2,-3.2 4,-1.8 q0.7,1 -0.2,1.8 q-1.6,-0.9 -2.6,1.4 z" fill="#f5b325" stroke="#c98a10" stroke-width="0.4" />
</g>
<g transform="translate(267.5,177.1) rotate(-3) scale(1.0)">
<path d="M-18,6 C-19,-4 -10,-15 3,-16 C13,-16.5 19,-8 18.5,0 C18,9 10,15 -1,16 C-10,16.5 -17.5,13 -18,6 Z" fill="#a9aaac" stroke="#9a9b9d" stroke-width="0.5" />
<path d="M-11.5,6 C-12,-1 -5,-9.5 3,-9.5 C9,-9.5 14.5,-5 14.5,1 C14.5,7 8,12.5 1,12.5 C-6,12.5 -11.2,11 -11.5,6 Z" fill="#b6e3ee" stroke="#98c4cf" stroke-width="0.4" />
<path d="M-7,9 C-6.5,5 -6,0 -4,-3 C-2,-5 1,-4.5 4,-4.5 L2,0 C5,1 6,4 4,7 C3,9 1,10 -1,10.5" fill="none" stroke="#2f4f4a" stroke-width="1.7" stroke-linecap="round" stroke-linejoin="round"/>
<path d="M-2,8 C-2,4 -1.5,1 0,-1 M3,-4 C6,-5 9,-4 9,-1 C9,2 6,2 7,5 C8,8 6,10 4,10.5" fill="none" stroke="#2f4f4a" stroke-width="1.6" stroke-linecap="round" stroke-linejoin="round"/>
<path d="M-4,2 L2,3 M-5,6 L1,6.5 M4,1 L8,2" fill="none" stroke="#2f4f4a" stroke-width="1.2" stroke-linecap="round"/>
<path d="M-5.2,-5.2 q1.2,-3.2 4,-1.8 q0.7,1 -0.2,1.8 q-1.6,-0.9 -2.6,1.4 z" fill="#f5b325" stroke="#c98a10" stroke-width="0.4" />
</g>
<g transform="translate(308,192.5) rotate(6) scale(1.0)">
<path d="M-18,6 C-19,-4 -10,-15 3,-16 C13,-16.5 19,-8 18.5,0 C18,9 10,15 -1,16 C-10,16.5 -17.5,13 -18,6 Z" fill="#a9aaac" stroke="#9a9b9d" stroke-width="0.5" />
<path d="M-11.5,6 C-12,-1 -5,-9.5 3,-9.5 C9,-9.5 14.5,-5 14.5,1 C14.5,7 8,12.5 1,12.5 C-6,12.5 -11.2,11 -11.5,6 Z" fill="#b6e3ee" stroke="#98c4cf" stroke-width="0.4" />
<path d="M-7,9 C-6.5,5 -6,0 -4,-3 C-2,-5 1,-4.5 4,-4.5 L2,0 C5,1 6,4 4,7 C3,9 1,10 -1,10.5" fill="none" stroke="#2f4f4a" stroke-width="1.7" stroke-linecap="round" stroke-linejoin="round"/>
<path d="M-2,8 C-2,4 -1.5,1 0,-1 M3,-4 C6,-5 9,-4 9,-1 C9,2 6,2 7,5 C8,8 6,10 4,10.5" fill="none" stroke="#2f4f4a" stroke-width="1.6" stroke-linecap="round" stroke-linejoin="round"/>
<path d="M-4,2 L2,3 M-5,6 L1,6.5 M4,1 L8,2" fill="none" stroke="#2f4f4a" stroke-width="1.2" stroke-linecap="round"/>
<path d="M-5.2,-5.2 q1.2,-3.2 4,-1.8 q0.7,1 -0.2,1.8 q-1.6,-0.9 -2.6,1.4 z" fill="#f5b325" stroke="#c98a10" stroke-width="0.4" />
</g>
<circle cx="315.00" cy="86.30" r="1.25" fill="#ffc9cb" stroke="#e5202a" stroke-width="1.15" />
<circle cx="313.50" cy="95.00" r="1.25" fill="#ffc9cb" stroke="#e5202a" stroke-width="1.15" />
<circle cx="319.60" cy="104.90" r="1.25" fill="#ffc9cb" stroke="#e5202a" stroke-width="1.15" />
<circle cx="334.30" cy="109.30" r="1.25" fill="#ffc9cb" stroke="#e5202a" stroke-width="1.15" />
<circle cx="347.00" cy="106.40" r="1.25" fill="#ffc9cb" stroke="#e5202a" stroke-width="1.15" />
<circle cx="359.00" cy="87.40" r="1.25" fill="#ffc9cb" stroke="#e5202a" stroke-width="1.15" />
<circle cx="358.00" cy="97.90" r="1.25" fill="#ffc9cb" stroke="#e5202a" stroke-width="1.15" />
<circle cx="367.10" cy="112.10" r="1.25" fill="#ffc9cb" stroke="#e5202a" stroke-width="1.15" />
<circle cx="373.70" cy="125.30" r="1.25" fill="#ffc9cb" stroke="#e5202a" stroke-width="1.15" />
<circle cx="368.90" cy="137.30" r="1.25" fill="#ffc9cb" stroke="#e5202a" stroke-width="1.15" />
<circle cx="355.10" cy="143.60" r="1.25" fill="#ffc9cb" stroke="#e5202a" stroke-width="1.15" />
<circle cx="341.50" cy="144.30" r="1.25" fill="#ffc9cb" stroke="#e5202a" stroke-width="1.15" />
<circle cx="333.20" cy="119.10" r="1.25" fill="#ffc9cb" stroke="#e5202a" stroke-width="1.15" />
<circle cx="331.50" cy="131.80" r="1.25" fill="#ffc9cb" stroke="#e5202a" stroke-width="1.15" />
<circle cx="321.80" cy="128.50" r="1.25" fill="#ffc9cb" stroke="#e5202a" stroke-width="1.15" />
<circle cx="308.50" cy="132.90" r="1.25" fill="#ffc9cb" stroke="#e5202a" stroke-width="1.15" />
<circle cx="299.30" cy="125.70" r="1.25" fill="#ffc9cb" stroke="#e5202a" stroke-width="1.15" />
<circle cx="287.70" cy="117.40" r="1.25" fill="#ffc9cb" stroke="#e5202a" stroke-width="1.15" />
<circle cx="276.90" cy="118.50" r="1.25" fill="#ffc9cb" stroke="#e5202a" stroke-width="1.15" />
<circle cx="264.90" cy="123.50" r="1.25" fill="#ffc9cb" stroke="#e5202a" stroke-width="1.15" />
<circle cx="255.90" cy="136.60" r="1.25" fill="#ffc9cb" stroke="#e5202a" stroke-width="1.15" />
<circle cx="264.90" cy="154.20" r="1.25" fill="#ffc9cb" stroke="#e5202a" stroke-width="1.15" />
<circle cx="278.00" cy="155.90" r="1.25" fill="#ffc9cb" stroke="#e5202a" stroke-width="1.15" />
<circle cx="300.80" cy="143.90" r="1.25" fill="#ffc9cb" stroke="#e5202a" stroke-width="1.15" />
<circle cx="296.60" cy="155.70" r="1.25" fill="#ffc9cb" stroke="#e5202a" stroke-width="1.15" />
<circle cx="301.90" cy="166.60" r="1.25" fill="#ffc9cb" stroke="#e5202a" stroke-width="1.15" />
<circle cx="313.90" cy="168.80" r="1.25" fill="#ffc9cb" stroke="#e5202a" stroke-width="1.15" />
<circle cx="328.20" cy="167.70" r="1.25" fill="#ffc9cb" stroke="#e5202a" stroke-width="1.15" />
<circle cx="341.50" cy="156.30" r="1.25" fill="#ffc9cb" stroke="#e5202a" stroke-width="1.15" />
<circle cx="203.30" cy="38.70" r="1.25" fill="#ffc9cb" stroke="#e5202a" stroke-width="1.15" />
<circle cx="226.50" cy="41.00" r="1.25" fill="#ffc9cb" stroke="#e5202a" stroke-width="1.15" />
<circle cx="194.30" cy="50.90" r="1.25" fill="#ffc9cb" stroke="#e5202a" stroke-width="1.15" />
<circle cx="208.30" cy="53.50" r="1.25" fill="#ffc9cb" stroke="#e5202a" stroke-width="1.15" />
<circle cx="220.90" cy="55.00" r="1.25" fill="#ffc9cb" stroke="#e5202a" stroke-width="1.15" />
<circle cx="209.90" cy="69.10" r="1.25" fill="#ffc9cb" stroke="#e5202a" stroke-width="1.15" />
<circle cx="209.60" cy="82.90" r="1.25" fill="#ffc9cb" stroke="#e5202a" stroke-width="1.15" />
<circle cx="213.70" cy="91.10" r="1.25" fill="#ffc9cb" stroke="#e5202a" stroke-width="1.15" />
<circle cx="212.70" cy="106.10" r="1.25" fill="#ffc9cb" stroke="#e5202a" stroke-width="1.15" />
<circle cx="233.30" cy="121.00" r="1.25" fill="#ffc9cb" stroke="#e5202a" stroke-width="1.15" />
<circle cx="234.80" cy="137.30" r="1.25" fill="#ffc9cb" stroke="#e5202a" stroke-width="1.15" />
<circle cx="235.70" cy="152.60" r="1.25" fill="#ffc9cb" stroke="#e5202a" stroke-width="1.15" />
<circle cx="248.30" cy="149.00" r="1.25" fill="#ffc9cb" stroke="#e5202a" stroke-width="1.15" />
<circle cx="255.80" cy="136.80" r="1.25" fill="#ffc9cb" stroke="#e5202a" stroke-width="1.15" />
<circle cx="264.60" cy="123.30" r="1.25" fill="#ffc9cb" stroke="#e5202a" stroke-width="1.15" />
<circle cx="287.00" cy="117.00" r="1.25" fill="#ffc9cb" stroke="#e5202a" stroke-width="1.15" />
<circle cx="265.10" cy="154.30" r="1.25" fill="#ffc9cb" stroke="#e5202a" stroke-width="1.15" />
<circle cx="278.10" cy="156.10" r="1.25" fill="#ffc9cb" stroke="#e5202a" stroke-width="1.15" />
<g transform="translate(352.0,41.8) scale(0.9)">
<path d="M0.8,9.5 C1.2,6.5 1.8,3.5 3.2,1.3 C4.6,0 6.6,0.2 8.6,0.4 L6.6,4.2 C8.6,5.2 9.2,7.8 7.7,9.7 C6.7,11 5.2,11.6 3.6,12.4" fill="none" stroke="#1d2a33" stroke-width="2.1" stroke-linecap="round" stroke-linejoin="round"/>
<path d="M0.8,9.5 C1.2,6.5 1.8,3.5 3.2,1.3 C4.6,0 6.6,0.2 8.6,0.4 L6.6,4.2 C8.6,5.2 9.2,7.8 7.7,9.7 C6.7,11 5.2,11.6 3.6,12.4" fill="none" stroke="#2f74a6" stroke-width="1.0" stroke-linecap="round" stroke-linejoin="round"/>
</g>
<g transform="translate(336.6,51.6) scale(0.9)">
<path d="M0.8,9.5 C1.2,6.5 1.8,3.5 3.2,1.3 C4.6,0 6.6,0.2 8.6,0.4 L6.6,4.2 C8.6,5.2 9.2,7.8 7.7,9.7 C6.7,11 5.2,11.6 3.6,12.4" fill="none" stroke="#1d2a33" stroke-width="2.1" stroke-linecap="round" stroke-linejoin="round"/>
<path d="M0.8,9.5 C1.2,6.5 1.8,3.5 3.2,1.3 C4.6,0 6.6,0.2 8.6,0.4 L6.6,4.2 C8.6,5.2 9.2,7.8 7.7,9.7 C6.7,11 5.2,11.6 3.6,12.4" fill="none" stroke="#2f74a6" stroke-width="1.0" stroke-linecap="round" stroke-linejoin="round"/>
</g>
<g transform="translate(362.6,58.8) scale(0.9)">
<path d="M0.8,9.5 C1.2,6.5 1.8,3.5 3.2,1.3 C4.6,0 6.6,0.2 8.6,0.4 L6.6,4.2 C8.6,5.2 9.2,7.8 7.7,9.7 C6.7,11 5.2,11.6 3.6,12.4" fill="none" stroke="#1d2a33" stroke-width="2.1" stroke-linecap="round" stroke-linejoin="round"/>
<path d="M0.8,9.5 C1.2,6.5 1.8,3.5 3.2,1.3 C4.6,0 6.6,0.2 8.6,0.4 L6.6,4.2 C8.6,5.2 9.2,7.8 7.7,9.7 C6.7,11 5.2,11.6 3.6,12.4" fill="none" stroke="#c9c98f" stroke-width="1.0" stroke-linecap="round" stroke-linejoin="round"/>
</g>
<g transform="translate(351.3,67.0) scale(0.9)">
<path d="M0.8,9.5 C1.2,6.5 1.8,3.5 3.2,1.3 C4.6,0 6.6,0.2 8.6,0.4 L6.6,4.2 C8.6,5.2 9.2,7.8 7.7,9.7 C6.7,11 5.2,11.6 3.6,12.4" fill="none" stroke="#1d2a33" stroke-width="2.1" stroke-linecap="round" stroke-linejoin="round"/>
<path d="M0.8,9.5 C1.2,6.5 1.8,3.5 3.2,1.3 C4.6,0 6.6,0.2 8.6,0.4 L6.6,4.2 C8.6,5.2 9.2,7.8 7.7,9.7 C6.7,11 5.2,11.6 3.6,12.4" fill="none" stroke="#c9c98f" stroke-width="1.0" stroke-linecap="round" stroke-linejoin="round"/>
</g>
<path d="M44.8,84.5 C58,108 80,125 104,128" fill="none" stroke="#000" stroke-width="1.5" />
<path d="M109.20,128.60 L96.85,131.39 L100.89,126.83 L99.05,121.02 Z" fill="#000" stroke="none" stroke-width="1" />
<path d="M143,202.5 C160,198 172,191 183,181" fill="none" stroke="#000" stroke-width="1.5" />
<path d="M188.00,177.00 L182.60,188.45 L181.49,182.46 L175.78,180.33 Z" fill="#000" stroke="none" stroke-width="1" />
<path d="M227.8,165.7 C238,163 248,157 256,150" fill="none" stroke="#000" stroke-width="1.5" />
<path d="M260.50,146.20 L255.10,157.65 L253.99,151.66 L248.28,149.53 Z" fill="#000" stroke="none" stroke-width="1" />
<path d="M260.5,114.3 C275,112 288,108 297,101" fill="none" stroke="#000" stroke-width="1.5" />
<path d="M302.00,98.00 L295.24,108.71 L294.87,102.63 L289.47,99.82 Z" fill="#000" stroke="none" stroke-width="1" />
<circle cx="169.00" cy="199.70" r="2.0" fill="#1aa7e0" stroke="none" stroke-width="1" />
<circle cx="168.00" cy="206.30" r="2.0" fill="#1aa7e0" stroke="none" stroke-width="1" />
<circle cx="174.40" cy="205.00" r="2.0" fill="#1aa7e0" stroke="none" stroke-width="1" />
<text x="372.60" y="42.40" font-size="12.3" font-weight="bold" text-anchor="start" fill="#231f20" stroke="#231f20" stroke-width="0.22" >Insulin</text>
<text x="379.30" y="66.10" font-size="12.2" font-weight="bold" text-anchor="start" fill="#231f20" stroke="#231f20" stroke-width="0.22" >NanoLuc</text>
<text x="265.50" y="104.00" font-size="11.6" font-weight="bold" text-anchor="start" fill="#e31f26" stroke="#e31f26" stroke-width="0.22" >Ca</text>
<text x="279.70" y="99.80" font-size="6.6" font-weight="bold" text-anchor="start" fill="#e31f26" stroke="#e31f26" stroke-width="0.22" >2+</text>
<text x="316.00" y="220.60" font-size="12.3" font-weight="bold" text-anchor="start" fill="#808083" stroke="#808083" stroke-width="0.22" >POI Loading</text>
<text x="111.00" y="370.80" font-size="14" font-weight="bold" text-anchor="start" fill="#231f20" stroke="#231f20" stroke-width="0.22" >Endocrine Progenitor Cells</text>
<rect x="465.80" y="165.30" width="185.40" height="151.00" fill="#ebe0f0" stroke="none" stroke-width="1" rx="21"/>
<text x="556.40" y="189.20" font-size="12.7" font-weight="bold" text-anchor="middle" fill="#7b4ca5" stroke="#7b4ca5" stroke-width="0.22" >Vesicular POI secretion</text>
<text x="561.50" y="209.90" font-size="9.9" font-weight="bold" text-anchor="middle" fill="#231f20" stroke="#231f20" stroke-width="0.22" >Human Proinsulin</text>
<line x1="476.20" y1="228.50" x2="635.80" y2="228.50" stroke="#231f20" stroke-width="1.8" />
<path d="M484.4,228 L484.4,219.7 L492.4,219.7" fill="none" stroke="#231f20" stroke-width="1.5" />
<path d="M503.9,219.7 Q497.4,217.5 490.9,215.7 L490.9,223.7 Q497.4,221.9 503.9,219.7 Z" fill="#231f20" stroke="none" stroke-width="1" />
<rect x="507.20" y="215.40" width="28.60" height="12.60" fill="#7db0e2" stroke="#3a3a3c" stroke-width="0.9" />
<text x="521.50" y="225.40" font-size="9.8" font-weight="bold" text-anchor="middle" fill="#231f20" stroke="#231f20" stroke-width="0.22" >B</text>
<rect x="535.80" y="215.40" width="52.80" height="12.60" fill="#a9c4e8" stroke="#3a3a3c" stroke-width="0.9" />
<text x="562.20" y="225.40" font-size="9.6" font-weight="bold" text-anchor="middle" fill="#231f20" stroke="#231f20" stroke-width="0.22" >C-Peptide</text>
<rect x="588.60" y="215.40" width="28.30" height="12.60" fill="#86d1df" stroke="#3a3a3c" stroke-width="0.9" />
<text x="602.75" y="225.40" font-size="9.8" font-weight="bold" text-anchor="middle" fill="#231f20" stroke="#231f20" stroke-width="0.22" >A</text>
<line x1="562.30" y1="232.00" x2="562.30" y2="238.00" stroke="#1aa64a" stroke-width="1.5" />
<path d="M558.1,236 L566.6,236 L562.3,242.4 Z" fill="#1aa64a" stroke="none" stroke-width="1" />
<line x1="475.50" y1="258.00" x2="635.00" y2="258.00" stroke="#231f20" stroke-width="1.8" />
<path d="M483.9,257.5 L483.9,249.2 L491.9,249.2" fill="none" stroke="#231f20" stroke-width="1.5" />
<path d="M503.4,249.2 Q496.9,247.0 490.4,245.2 L490.4,253.2 Q496.9,251.4 503.4,249.2 Z" fill="#231f20" stroke="none" stroke-width="1" />
<rect x="506.50" y="244.60" width="28.50" height="12.90" fill="#7db0e2" stroke="#3a3a3c" stroke-width="0.9" />
<text x="520.75" y="254.90" font-size="9.8" font-weight="bold" text-anchor="middle" fill="#231f20" stroke="#231f20" stroke-width="0.22" >B</text>
<rect x="535.00" y="244.60" width="54.60" height="12.90" fill="#f9e5a2" stroke="#3a3a3c" stroke-width="0.9" />
<text x="562.30" y="254.90" font-size="9.6" font-weight="bold" text-anchor="middle" fill="#231f20" stroke="#231f20" stroke-width="0.22" >Luciferase</text>
<rect x="589.60" y="244.60" width="28.80" height="12.90" fill="#86d1df" stroke="#3a3a3c" stroke-width="0.9" />
<text x="604.00" y="254.90" font-size="9.8" font-weight="bold" text-anchor="middle" fill="#231f20" stroke="#231f20" stroke-width="0.22" >A</text>
<text x="473.70" y="270.60" font-size="10" font-weight="bold" text-anchor="start" fill="#e31f26" stroke="#e31f26" stroke-width="0.22" >Mutation</text>
<line x1="521.60" y1="262.40" x2="521.60" y2="268.00" stroke="#e31f26" stroke-width="1.5" />
<path d="M518.3,266.2 L525,266.2 L521.6,272 Z" fill="#e31f26" stroke="none" stroke-width="1" />
<line x1="562.30" y1="262.40" x2="562.30" y2="268.00" stroke="#231f20" stroke-width="1.5" />
<path d="M559,266.2 L565.7,266.2 L562.3,272 Z" fill="#231f20" stroke="none" stroke-width="1" />
<text x="569.30" y="270.60" font-size="9.9" font-weight="bold" text-anchor="start" fill="#231f20" stroke="#231f20" stroke-width="0.22" >Exchange</text>
<line x1="474.50" y1="290.50" x2="635.00" y2="290.50" stroke="#231f20" stroke-width="1.8" />
<path d="M483.7,290.2 L483.7,281.9 L491.7,281.9" fill="none" stroke="#231f20" stroke-width="1.5" />
<path d="M503.2,281.9 Q496.7,279.7 490.2,277.9 L490.2,285.9 Q496.7,284.09999999999997 503.2,281.9 Z" fill="#231f20" stroke="none" stroke-width="1" />
<rect x="506.50" y="277.30" width="28.50" height="12.90" fill="#bcbcbe" stroke="#3a3a3c" stroke-width="0.9" />
<text x="520.75" y="287.60" font-size="9.8" font-weight="bold" text-anchor="middle" fill="#231f20" stroke="#231f20" stroke-width="0.22" >B*</text>
<rect x="535.00" y="277.30" width="54.60" height="12.90" fill="#a8d98c" stroke="#3a3a3c" stroke-width="0.9" />
<text x="562.30" y="287.60" font-size="9.8" font-weight="bold" text-anchor="middle" fill="#231f20" stroke="#231f20" stroke-width="0.22" >POI</text>
<rect x="589.60" y="277.30" width="28.80" height="12.90" fill="#bcbcbe" stroke="#3a3a3c" stroke-width="0.9" />
<text x="604.00" y="287.60" font-size="9.8" font-weight="bold" text-anchor="middle" fill="#231f20" stroke="#231f20" stroke-width="0.22" >A*</text>
<text x="563.50" y="302.90" font-size="10" font-weight="bold" text-anchor="middle" fill="#1aa64a" stroke="#1aa64a" stroke-width="0.22" >Diabetes unrelated</text>
<path d="M512.2,293.5 L512.2,300.6 L517.5,300.6" fill="none" stroke="#1aa64a" stroke-width="1.3" />
<path d="M615.2,293.5 L615.2,300.6 L609.8,300.6" fill="none" stroke="#1aa64a" stroke-width="1.3" />
<line x1="362.00" y1="258.60" x2="466.00" y2="258.60" stroke="#6b2c91" stroke-width="2" />
<path d="M353.1,258.6 L372.4,252.4 Q366.5,258.6 372.4,264.8 Z" fill="#6b2c91" stroke="none" stroke-width="1" />
<text x="0.00" y="440.60" font-size="24" text-anchor="start" fill="#000" stroke="#000" stroke-width="0.22" >B</text>
<rect x="89.60" y="440.40" width="18.40" height="9.70" fill="#a9b5e1" stroke="#555" stroke-width="0.9" />
<rect x="89.60" y="463.80" width="18.40" height="10.20" fill="#f9e5a9" stroke="#555" stroke-width="0.9" />
<text x="118.20" y="450.00" font-size="13.5" text-anchor="start" fill="#1a1a1a" stroke="#1a1a1a" stroke-width="0.22" >Insulin</text>
<text x="118.20" y="474.00" font-size="13.5" text-anchor="start" fill="#1a1a1a" stroke="#1a1a1a" stroke-width="0.22" >NanoLuc</text>
<line x1="98.80" y1="520.60" x2="98.80" y2="688.40" stroke="#1a1a1a" stroke-width="1.4" />
<line x1="92.30" y1="687.80" x2="98.80" y2="687.80" stroke="#1a1a1a" stroke-width="1.4" />
<text x="90.70" y="692.40" font-size="12.5" font-weight="bold" text-anchor="end" fill="#1a1a1a" stroke="#1a1a1a" stroke-width="0.22" >0</text>
<line x1="92.30" y1="646.00" x2="98.80" y2="646.00" stroke="#1a1a1a" stroke-width="1.4" />
<text x="90.70" y="650.60" font-size="12.5" font-weight="bold" text-anchor="end" fill="#1a1a1a" stroke="#1a1a1a" stroke-width="0.22" >2</text>
<line x1="92.30" y1="604.20" x2="98.80" y2="604.20" stroke="#1a1a1a" stroke-width="1.4" />
<text x="90.70" y="608.80" font-size="12.5" font-weight="bold" text-anchor="end" fill="#1a1a1a" stroke="#1a1a1a" stroke-width="0.22" >4</text>
<line x1="92.30" y1="562.40" x2="98.80" y2="562.40" stroke="#1a1a1a" stroke-width="1.4" />
<text x="90.70" y="567.00" font-size="12.5" font-weight="bold" text-anchor="end" fill="#1a1a1a" stroke="#1a1a1a" stroke-width="0.22" >6</text>
<line x1="92.30" y1="520.60" x2="98.80" y2="520.60" stroke="#1a1a1a" stroke-width="1.4" />
<text x="90.70" y="525.20" font-size="12.5" font-weight="bold" text-anchor="end" fill="#1a1a1a" stroke="#1a1a1a" stroke-width="0.22" >8</text>
<line x1="272.70" y1="520.60" x2="272.70" y2="688.40" stroke="#1a1a1a" stroke-width="1.4" />
<line x1="272.70" y1="687.80" x2="281.30" y2="687.80" stroke="#1a1a1a" stroke-width="1.4" />
<text x="283.20" y="692.40" font-size="12.5" font-weight="bold" text-anchor="start" fill="#1a1a1a" stroke="#1a1a1a" stroke-width="0.22" >0</text>
<line x1="272.70" y1="632.07" x2="281.30" y2="632.07" stroke="#1a1a1a" stroke-width="1.4" />
<text x="283.20" y="636.67" font-size="12.5" font-weight="bold" text-anchor="start" fill="#1a1a1a" stroke="#1a1a1a" stroke-width="0.22" >1000</text>
<line x1="272.70" y1="576.33" x2="281.30" y2="576.33" stroke="#1a1a1a" stroke-width="1.4" />
<text x="283.20" y="580.93" font-size="12.5" font-weight="bold" text-anchor="start" fill="#1a1a1a" stroke="#1a1a1a" stroke-width="0.22" >2000</text>
<line x1="272.70" y1="520.60" x2="281.30" y2="520.60" stroke="#1a1a1a" stroke-width="1.4" />
<text x="283.20" y="525.20" font-size="12.5" font-weight="bold" text-anchor="start" fill="#1a1a1a" stroke="#1a1a1a" stroke-width="0.22" >3000</text>
<rect x="112.70" y="659.60" width="13.80" height="28.20" fill="#a9b5e1" stroke="#2a2a2a" stroke-width="1" />
<rect x="133.40" y="666.40" width="14.10" height="21.40" fill="#f9e5a9" stroke="#2a2a2a" stroke-width="1" />
<rect x="168.30" y="655.30" width="14.10" height="32.50" fill="#a9b5e1" stroke="#2a2a2a" stroke-width="1" />
<rect x="189.30" y="664.20" width="13.80" height="23.60" fill="#f9e5a9" stroke="#2a2a2a" stroke-width="1" />
<rect x="223.50" y="560.10" width="14.20" height="127.70" fill="#a9b5e1" stroke="#2a2a2a" stroke-width="1" />
<rect x="244.70" y="552.50" width="13.90" height="135.30" fill="#f9e5a9" stroke="#2a2a2a" stroke-width="1" />
<line x1="98.80" y1="687.80" x2="272.70" y2="687.80" stroke="#1a1a1a" stroke-width="1.4" />
<line x1="130.10" y1="687.80" x2="130.10" y2="694.50" stroke="#1a1a1a" stroke-width="1.4" />
<line x1="185.30" y1="687.80" x2="185.30" y2="694.50" stroke="#1a1a1a" stroke-width="1.4" />
<line x1="241.00" y1="687.80" x2="241.00" y2="694.50" stroke="#1a1a1a" stroke-width="1.4" />
<line x1="119.60" y1="657.50" x2="119.60" y2="661.50" stroke="#1a1a1a" stroke-width="1" />
<line x1="116.60" y1="657.50" x2="122.60" y2="657.50" stroke="#1a1a1a" stroke-width="1" />
<line x1="116.60" y1="661.50" x2="122.60" y2="661.50" stroke="#1a1a1a" stroke-width="1" />
<circle cx="119.60" cy="656.10" r="2.3" fill="none" stroke="#1a1a1a" stroke-width="0.9" />
<circle cx="115.00" cy="662.20" r="2.3" fill="none" stroke="#1a1a1a" stroke-width="0.9" />
<circle cx="124.20" cy="662.20" r="2.3" fill="none" stroke="#1a1a1a" stroke-width="0.9" />
<line x1="140.50" y1="663.50" x2="140.50" y2="669.00" stroke="#1a1a1a" stroke-width="1" />
<line x1="137.50" y1="663.50" x2="143.50" y2="663.50" stroke="#1a1a1a" stroke-width="1" />
<line x1="137.50" y1="669.00" x2="143.50" y2="669.00" stroke="#1a1a1a" stroke-width="1" />
<circle cx="135.70" cy="663.00" r="2.3" fill="none" stroke="#1a1a1a" stroke-width="0.9" />
<circle cx="136.40" cy="669.90" r="2.3" fill="none" stroke="#1a1a1a" stroke-width="0.9" />
<circle cx="144.50" cy="667.60" r="2.3" fill="none" stroke="#1a1a1a" stroke-width="0.9" />
<line x1="175.30" y1="652.50" x2="175.30" y2="658.00" stroke="#1a1a1a" stroke-width="1" />
<line x1="172.30" y1="652.50" x2="178.30" y2="652.50" stroke="#1a1a1a" stroke-width="1" />
<line x1="172.30" y1="658.00" x2="178.30" y2="658.00" stroke="#1a1a1a" stroke-width="1" />
<circle cx="170.90" cy="651.50" r="2.3" fill="none" stroke="#1a1a1a" stroke-width="0.9" />
<circle cx="175.20" cy="660.70" r="2.3" fill="none" stroke="#1a1a1a" stroke-width="0.9" />
<circle cx="179.80" cy="654.90" r="2.3" fill="none" stroke="#1a1a1a" stroke-width="0.9" />
<line x1="196.20" y1="661.00" x2="196.20" y2="667.00" stroke="#1a1a1a" stroke-width="1" />
<line x1="193.20" y1="661.00" x2="199.20" y2="661.00" stroke="#1a1a1a" stroke-width="1" />
<line x1="193.20" y1="667.00" x2="199.20" y2="667.00" stroke="#1a1a1a" stroke-width="1" />
<circle cx="196.20" cy="658.10" r="2.3" fill="none" stroke="#1a1a1a" stroke-width="0.9" />
<circle cx="192.40" cy="667.60" r="2.3" fill="none" stroke="#1a1a1a" stroke-width="0.9" />
<circle cx="200.00" cy="667.60" r="2.3" fill="none" stroke="#1a1a1a" stroke-width="0.9" />
<line x1="230.70" y1="553.90" x2="230.70" y2="565.30" stroke="#555" stroke-width="1" />
<line x1="227.40" y1="553.90" x2="234.00" y2="553.90" stroke="#555" stroke-width="1" />
<line x1="227.40" y1="565.30" x2="234.00" y2="565.30" stroke="#555" stroke-width="1" />
<circle cx="230.70" cy="548.90" r="2.3" fill="none" stroke="#1a1a1a" stroke-width="0.9" />
<circle cx="230.70" cy="561.70" r="2.3" fill="none" stroke="#1a1a1a" stroke-width="0.9" />
<circle cx="230.50" cy="569.40" r="2.3" fill="none" stroke="#1a1a1a" stroke-width="0.9" />
<line x1="251.40" y1="546.50" x2="251.40" y2="558.10" stroke="#1a1a1a" stroke-width="1" />
<line x1="248.10" y1="546.50" x2="254.70" y2="546.50" stroke="#1a1a1a" stroke-width="1" />
<line x1="248.10" y1="558.10" x2="254.70" y2="558.10" stroke="#1a1a1a" stroke-width="1" />
<circle cx="251.40" cy="540.40" r="2.3" fill="none" stroke="#1a1a1a" stroke-width="0.9" />
<circle cx="247.00" cy="560.40" r="2.3" fill="none" stroke="#1a1a1a" stroke-width="0.9" />
<circle cx="255.80" cy="555.70" r="2.3" fill="none" stroke="#1a1a1a" stroke-width="0.9" />
<path d="M121.3,651 L121.3,633.4 L175.9,633.4 L175.9,648" fill="none" stroke="#333" stroke-width="1" />
<text x="148.50" y="624.50" font-size="12.5" text-anchor="middle" fill="#1a1a1a" stroke="#1a1a1a" stroke-width="0.22" >ns</text>
<path d="M133.6,616.3 L133.6,605.2 L196.3,605.2 L196.3,651" fill="none" stroke="#333" stroke-width="1" />
<text x="165.00" y="596.80" font-size="12.5" text-anchor="middle" fill="#1a1a1a" stroke="#1a1a1a" stroke-width="0.22" >ns</text>
<path d="M119.3,601 L119.3,538.6 L231,538.6 L231,546.5" fill="none" stroke="#333" stroke-width="1" />
<text x="175.20" y="537.50" font-size="21" font-weight="bold" text-anchor="middle" fill="#1a1a1a" stroke="#1a1a1a" stroke-width="0.22" >****</text>
<path d="M137.5,527.4 L137.5,501.6 L251.6,501.6 L251.6,537.5" fill="none" stroke="#333" stroke-width="1" />
<text x="194.80" y="500.50" font-size="21" font-weight="bold" text-anchor="middle" fill="#1a1a1a" stroke="#1a1a1a" stroke-width="0.22" >****</text>
<text transform="translate(74.80,604.70) rotate(-90)" font-size="13.3" font-weight="bold" text-anchor="middle" fill="#1a1a1a" stroke="#1a1a1a" stroke-width="0.22">Insulin (µg/L)</text>
<text transform="translate(323.60,604.70) rotate(90)" font-size="13.55" font-weight="bold" text-anchor="middle" fill="#1a1a1a" stroke="#1a1a1a" stroke-width="0.22">NanoLuc (RLU)</text>
<text transform="translate(133.20,704.00) rotate(-45)" font-size="12.7" font-weight="bold" text-anchor="end" fill="#1a1a1a" stroke="#1a1a1a" stroke-width="0.22">Vehicle</text>
<text transform="translate(188.40,704.00) rotate(-45)" font-size="12.7" font-weight="bold" text-anchor="end" fill="#1a1a1a" stroke="#1a1a1a" stroke-width="0.22">Grazoprevir (0.5 µM)</text>
<text transform="translate(244.10,704.00) rotate(-45)" font-size="12.7" font-weight="bold" text-anchor="end" fill="#1a1a1a" stroke="#1a1a1a" stroke-width="0.22">KCl (20 mM)</text>
<text x="366.00" y="441.00" font-size="24" text-anchor="start" fill="#000" stroke="#000" stroke-width="0.22" >C</text>
<rect x="473.20" y="463.30" width="19.00" height="9.50" fill="#ffffff" stroke="#555" stroke-width="0.9" />
<rect x="473.20" y="487.30" width="19.00" height="10.00" fill="#56c0ee" stroke="#555" stroke-width="0.9" />
<text x="502.50" y="473.30" font-size="14" text-anchor="start" fill="#1a1a1a" stroke="#1a1a1a" stroke-width="0.22" >Vehicle</text>
<text x="502.50" y="497.80" font-size="14" text-anchor="start" fill="#1a1a1a" stroke="#1a1a1a" stroke-width="0.22" >Grazoprevir (0.5 µM)</text>
<line x1="469.10" y1="511.60" x2="469.10" y2="685.60" stroke="#1a1a1a" stroke-width="1.4" />
<line x1="462.30" y1="685.00" x2="469.10" y2="685.00" stroke="#1a1a1a" stroke-width="1.4" />
<text x="460.50" y="689.60" font-size="12.5" font-weight="bold" text-anchor="end" fill="#1a1a1a" stroke="#1a1a1a" stroke-width="0.22" >0</text>
<line x1="462.30" y1="650.32" x2="469.10" y2="650.32" stroke="#1a1a1a" stroke-width="1.4" />
<text x="460.50" y="654.92" font-size="12.5" font-weight="bold" text-anchor="end" fill="#1a1a1a" stroke="#1a1a1a" stroke-width="0.22" >100</text>
<line x1="462.30" y1="615.64" x2="469.10" y2="615.64" stroke="#1a1a1a" stroke-width="1.4" />
<text x="460.50" y="620.24" font-size="12.5" font-weight="bold" text-anchor="end" fill="#1a1a1a" stroke="#1a1a1a" stroke-width="0.22" >200</text>
<line x1="462.30" y1="580.96" x2="469.10" y2="580.96" stroke="#1a1a1a" stroke-width="1.4" />
<text x="460.50" y="585.56" font-size="12.5" font-weight="bold" text-anchor="end" fill="#1a1a1a" stroke="#1a1a1a" stroke-width="0.22" >300</text>
<line x1="462.30" y1="546.28" x2="469.10" y2="546.28" stroke="#1a1a1a" stroke-width="1.4" />
<text x="460.50" y="550.88" font-size="12.5" font-weight="bold" text-anchor="end" fill="#1a1a1a" stroke="#1a1a1a" stroke-width="0.22" >400</text>
<line x1="462.30" y1="511.60" x2="469.10" y2="511.60" stroke="#1a1a1a" stroke-width="1.4" />
<text x="460.50" y="516.20" font-size="12.5" font-weight="bold" text-anchor="end" fill="#1a1a1a" stroke="#1a1a1a" stroke-width="0.22" >500</text>
<rect x="483.40" y="631.40" width="14.40" height="53.60" fill="#ffffff" stroke="#2a2a2a" stroke-width="1" />
<rect x="505.10" y="596.40" width="14.40" height="88.60" fill="#56c0ee" stroke="#2a2a2a" stroke-width="1" />
<rect x="540.50" y="611.40" width="14.40" height="73.60" fill="#ffffff" stroke="#2a2a2a" stroke-width="1" />
<rect x="561.90" y="588.60" width="14.40" height="96.40" fill="#56c0ee" stroke="#2a2a2a" stroke-width="1" />
<rect x="597.30" y="619.80" width="14.40" height="65.20" fill="#ffffff" stroke="#2a2a2a" stroke-width="1" />
<rect x="618.70" y="586.50" width="14.30" height="98.50" fill="#56c0ee" stroke="#2a2a2a" stroke-width="1" />
<line x1="469.10" y1="685.00" x2="647.00" y2="685.00" stroke="#1a1a1a" stroke-width="1.4" />
<line x1="501.60" y1="685.00" x2="501.60" y2="691.00" stroke="#1a1a1a" stroke-width="1.4" />
<line x1="557.70" y1="685.00" x2="557.70" y2="691.00" stroke="#1a1a1a" stroke-width="1.4" />
<line x1="613.80" y1="685.00" x2="613.80" y2="691.00" stroke="#1a1a1a" stroke-width="1.4" />
<line x1="490.60" y1="629.00" x2="490.60" y2="634.00" stroke="#1a1a1a" stroke-width="1" />
<line x1="487.60" y1="629.00" x2="493.60" y2="629.00" stroke="#1a1a1a" stroke-width="1" />
<line x1="487.60" y1="634.00" x2="493.60" y2="634.00" stroke="#1a1a1a" stroke-width="1" />
<circle cx="485.90" cy="632.40" r="2.3" fill="none" stroke="#1a1a1a" stroke-width="0.9" />
<circle cx="491.80" cy="626.80" r="2.3" fill="none" stroke="#1a1a1a" stroke-width="0.9" />
<circle cx="495.30" cy="632.40" r="2.3" fill="none" stroke="#1a1a1a" stroke-width="0.9" />
<line x1="512.30" y1="591.80" x2="512.30" y2="599.90" stroke="#1a1a1a" stroke-width="1" />
<line x1="509.10" y1="591.80" x2="515.50" y2="591.80" stroke="#1a1a1a" stroke-width="1" />
<line x1="509.10" y1="599.90" x2="515.50" y2="599.90" stroke="#1a1a1a" stroke-width="1" />
<circle cx="507.60" cy="591.80" r="2.3" fill="none" stroke="#1a1a1a" stroke-width="0.9" />
<circle cx="512.90" cy="604.40" r="2.3" fill="none" stroke="#1a1a1a" stroke-width="0.9" />
<circle cx="516.70" cy="593.90" r="2.3" fill="none" stroke="#1a1a1a" stroke-width="0.9" />
<line x1="547.70" y1="609.50" x2="547.70" y2="613.00" stroke="#1a1a1a" stroke-width="1" />
<line x1="544.70" y1="609.50" x2="550.70" y2="609.50" stroke="#1a1a1a" stroke-width="1" />
<line x1="544.70" y1="613.00" x2="550.70" y2="613.00" stroke="#1a1a1a" stroke-width="1" />
<circle cx="542.60" cy="612.10" r="2.3" fill="none" stroke="#1a1a1a" stroke-width="0.9" />
<circle cx="547.90" cy="609.30" r="2.3" fill="none" stroke="#1a1a1a" stroke-width="0.9" />
<circle cx="552.40" cy="611.40" r="2.3" fill="none" stroke="#1a1a1a" stroke-width="0.9" />
<line x1="569.10" y1="581.30" x2="569.10" y2="596.40" stroke="#1a1a1a" stroke-width="1" />
<line x1="565.90" y1="581.30" x2="572.30" y2="581.30" stroke="#1a1a1a" stroke-width="1" />
<line x1="565.90" y1="596.40" x2="572.30" y2="596.40" stroke="#1a1a1a" stroke-width="1" />
<circle cx="569.60" cy="573.60" r="2.3" fill="none" stroke="#1a1a1a" stroke-width="0.9" />
<circle cx="569.60" cy="590.40" r="2.3" fill="none" stroke="#1a1a1a" stroke-width="0.9" />
<circle cx="569.60" cy="603.40" r="2.3" fill="none" stroke="#1a1a1a" stroke-width="0.9" />
<line x1="604.50" y1="615.00" x2="604.50" y2="622.00" stroke="#1a1a1a" stroke-width="1" />
<line x1="601.50" y1="615.00" x2="607.50" y2="615.00" stroke="#1a1a1a" stroke-width="1" />
<line x1="601.50" y1="622.00" x2="607.50" y2="622.00" stroke="#1a1a1a" stroke-width="1" />
<circle cx="599.40" cy="615.60" r="2.3" fill="none" stroke="#1a1a1a" stroke-width="0.9" />
<circle cx="604.70" cy="614.90" r="2.3" fill="none" stroke="#1a1a1a" stroke-width="0.9" />
<circle cx="609.20" cy="619.10" r="2.3" fill="none" stroke="#1a1a1a" stroke-width="0.9" />
<line x1="625.90" y1="574.30" x2="625.90" y2="598.80" stroke="#1a1a1a" stroke-width="1" />
<line x1="622.70" y1="574.30" x2="629.10" y2="574.30" stroke="#1a1a1a" stroke-width="1" />
<line x1="622.70" y1="598.80" x2="629.10" y2="598.80" stroke="#1a1a1a" stroke-width="1" />
<circle cx="626.00" cy="563.10" r="2.3" fill="none" stroke="#1a1a1a" stroke-width="0.9" />
<circle cx="626.00" cy="592.20" r="2.3" fill="none" stroke="#1a1a1a" stroke-width="0.9" />
<circle cx="626.00" cy="605.10" r="2.3" fill="none" stroke="#1a1a1a" stroke-width="0.9" />
<path d="M490.8,624.4 L490.8,560.3 L512.5,560.3 L512.5,581.3" fill="none" stroke="#333" stroke-width="1" />
<text x="502.00" y="559.00" font-size="21" font-weight="bold" text-anchor="middle" fill="#1a1a1a" stroke="#1a1a1a" stroke-width="0.22" >**</text>
<path d="M547.9,606.9 L547.9,556.1 L569.6,556.1 L569.6,568.3" fill="none" stroke="#333" stroke-width="1" />
<text x="558.70" y="549.00" font-size="12.5" text-anchor="middle" fill="#1a1a1a" stroke="#1a1a1a" stroke-width="0.22" >ns</text>
<path d="M604,612 L604,549.8 L625,549.8 L625,557.8" fill="none" stroke="#333" stroke-width="1" />
<text x="614.50" y="540.30" font-size="12.5" text-anchor="middle" fill="#1a1a1a" stroke="#1a1a1a" stroke-width="0.22" >ns</text>
<text transform="translate(427.00,598.50) rotate(-90)" font-size="14" font-weight="bold" text-anchor="middle" fill="#1a1a1a" stroke="#1a1a1a" stroke-width="0.22">NanoLuc (RLU)</text>
<text transform="translate(505.70,702.70) rotate(-45)" font-size="13.2" font-weight="bold" text-anchor="end" fill="#1a1a1a" stroke="#1a1a1a" stroke-width="0.22">Foldon</text>
<text transform="translate(561.80,702.70) rotate(-45)" font-size="13.2" font-weight="bold" text-anchor="end" fill="#1a1a1a" stroke="#1a1a1a" stroke-width="0.22">COMPcc</text>
<text transform="translate(617.90,702.70) rotate(-45)" font-size="13.2" font-weight="bold" text-anchor="end" fill="#1a1a1a" stroke="#1a1a1a" stroke-width="0.22">FTH1</text>
<text x="-1.00" y="811.00" font-size="24" text-anchor="start" fill="#000" stroke="#000" stroke-width="0.22" >D</text>
<rect x="67.20" y="831.80" width="16.30" height="6.30" fill="#ffffff" stroke="#555" stroke-width="0.8" />
<text x="91.70" y="838.40" font-size="10.7" text-anchor="start" fill="#1a1a1a" stroke="#1a1a1a" stroke-width="0.22" >Vehicle</text>
<rect x="67.20" y="848.10" width="16.30" height="6.30" fill="#e9f0fa" stroke="#555" stroke-width="0.8" />
<text x="91.70" y="854.70" font-size="10.7" text-anchor="start" fill="#1a1a1a" stroke="#1a1a1a" stroke-width="0.22" >0.001 µM Grazoprevir</text>
<rect x="67.20" y="866.10" width="16.30" height="6.30" fill="#d4e1f5" stroke="#555" stroke-width="0.8" />
<text x="91.70" y="872.70" font-size="10.7" text-anchor="start" fill="#1a1a1a" stroke="#1a1a1a" stroke-width="0.22" >0.01 µM Grazoprevir</text>
<rect x="67.20" y="884.10" width="16.30" height="6.30" fill="#b3c9ec" stroke="#555" stroke-width="0.8" />
<text x="91.70" y="890.70" font-size="10.7" text-anchor="start" fill="#1a1a1a" stroke="#1a1a1a" stroke-width="0.22" >0.05 µM Grazoprevir</text>
<rect x="220.50" y="830.20" width="16.00" height="6.20" fill="#8fb1e1" stroke="#555" stroke-width="0.8" />
<text x="245.00" y="836.60" font-size="10.7" text-anchor="start" fill="#1a1a1a" stroke="#1a1a1a" stroke-width="0.22" >0.5 µM Grazoprevir</text>
<rect x="220.50" y="847.80" width="16.00" height="6.20" fill="#5e94d4" stroke="#555" stroke-width="0.8" />
<text x="245.00" y="854.20" font-size="10.7" text-anchor="start" fill="#1a1a1a" stroke="#1a1a1a" stroke-width="0.22" >2 µM Grazoprevir</text>
<rect x="220.50" y="866.10" width="16.00" height="6.20" fill="#f0825f" stroke="#555" stroke-width="0.8" />
<text x="245.00" y="872.50" font-size="10.7" text-anchor="start" fill="#1a1a1a" stroke="#1a1a1a" stroke-width="0.22" >20 mM KCl</text>
<line x1="68.80" y1="928.40" x2="68.80" y2="1073.00" stroke="#1a1a1a" stroke-width="1.4" />
<line x1="62.50" y1="1072.40" x2="68.80" y2="1072.40" stroke="#1a1a1a" stroke-width="1.4" />
<text x="60.30" y="1076.30" font-size="10.6" font-weight="bold" text-anchor="end" fill="#1a1a1a" stroke="#1a1a1a" stroke-width="0.22" >0</text>
<line x1="62.50" y1="1036.40" x2="68.80" y2="1036.40" stroke="#1a1a1a" stroke-width="1.4" />
<text x="60.30" y="1040.30" font-size="10.6" font-weight="bold" text-anchor="end" fill="#1a1a1a" stroke="#1a1a1a" stroke-width="0.22" >2000</text>
<line x1="62.50" y1="1000.40" x2="68.80" y2="1000.40" stroke="#1a1a1a" stroke-width="1.4" />
<text x="60.30" y="1004.30" font-size="10.6" font-weight="bold" text-anchor="end" fill="#1a1a1a" stroke="#1a1a1a" stroke-width="0.22" >4000</text>
<line x1="62.50" y1="964.40" x2="68.80" y2="964.40" stroke="#1a1a1a" stroke-width="1.4" />
<text x="60.30" y="968.30" font-size="10.6" font-weight="bold" text-anchor="end" fill="#1a1a1a" stroke="#1a1a1a" stroke-width="0.22" >6000</text>
<line x1="62.50" y1="928.40" x2="68.80" y2="928.40" stroke="#1a1a1a" stroke-width="1.4" />
<text x="60.30" y="932.30" font-size="10.6" font-weight="bold" text-anchor="end" fill="#1a1a1a" stroke="#1a1a1a" stroke-width="0.22" >8000</text>
<rect x="75.05" y="1067.10" width="6.40" height="5.30" fill="#ffffff" stroke="#2a2a2a" stroke-width="0.9" />
<rect x="84.90" y="1067.10" width="6.40" height="5.30" fill="#e9f0fa" stroke="#2a2a2a" stroke-width="0.9" />
<rect x="94.75" y="1061.90" width="6.40" height="10.50" fill="#d4e1f5" stroke="#2a2a2a" stroke-width="0.9" />
<rect x="104.60" y="1043.50" width="6.40" height="28.90" fill="#b3c9ec" stroke="#2a2a2a" stroke-width="0.9" />
<rect x="114.45" y="1034.30" width="6.40" height="38.10" fill="#8fb1e1" stroke="#2a2a2a" stroke-width="0.9" />
<rect x="124.30" y="1035.60" width="6.40" height="36.80" fill="#5e94d4" stroke="#2a2a2a" stroke-width="0.9" />
<rect x="134.15" y="1002.00" width="6.40" height="70.40" fill="#f0825f" stroke="#2a2a2a" stroke-width="0.9" />
<line x1="78.25" y1="1065.10" x2="78.25" y2="1069.60" stroke="#1a1a1a" stroke-width="0.8" />
<line x1="76.05" y1="1065.10" x2="80.45" y2="1065.10" stroke="#1a1a1a" stroke-width="0.8" />
<line x1="76.05" y1="1069.60" x2="80.45" y2="1069.60" stroke="#1a1a1a" stroke-width="0.8" />
<circle cx="77.05" cy="1065.60" r="2.0" fill="none" stroke="#1a1a1a" stroke-width="0.85" />
<circle cx="79.75" cy="1068.10" r="2.0" fill="none" stroke="#1a1a1a" stroke-width="0.85" />
<circle cx="78.25" cy="1071.10" r="2.0" fill="none" stroke="#1a1a1a" stroke-width="0.85" />
<line x1="88.10" y1="1065.10" x2="88.10" y2="1069.60" stroke="#1a1a1a" stroke-width="0.8" />
<line x1="85.90" y1="1065.10" x2="90.30" y2="1065.10" stroke="#1a1a1a" stroke-width="0.8" />
<line x1="85.90" y1="1069.60" x2="90.30" y2="1069.60" stroke="#1a1a1a" stroke-width="0.8" />
<circle cx="86.90" cy="1065.60" r="2.0" fill="none" stroke="#1a1a1a" stroke-width="0.85" />
<circle cx="89.60" cy="1068.10" r="2.0" fill="none" stroke="#1a1a1a" stroke-width="0.85" />
<circle cx="88.10" cy="1071.10" r="2.0" fill="none" stroke="#1a1a1a" stroke-width="0.85" />
<line x1="97.95" y1="1059.90" x2="97.95" y2="1064.40" stroke="#1a1a1a" stroke-width="0.8" />
<line x1="95.75" y1="1059.90" x2="100.15" y2="1059.90" stroke="#1a1a1a" stroke-width="0.8" />
<line x1="95.75" y1="1064.40" x2="100.15" y2="1064.40" stroke="#1a1a1a" stroke-width="0.8" />
<circle cx="96.75" cy="1060.40" r="2.0" fill="none" stroke="#1a1a1a" stroke-width="0.85" />
<circle cx="99.45" cy="1062.90" r="2.0" fill="none" stroke="#1a1a1a" stroke-width="0.85" />
<circle cx="97.95" cy="1065.90" r="2.0" fill="none" stroke="#1a1a1a" stroke-width="0.85" />
<line x1="107.80" y1="1041.50" x2="107.80" y2="1046.00" stroke="#1a1a1a" stroke-width="0.8" />
<line x1="105.60" y1="1041.50" x2="110.00" y2="1041.50" stroke="#1a1a1a" stroke-width="0.8" />
<line x1="105.60" y1="1046.00" x2="110.00" y2="1046.00" stroke="#1a1a1a" stroke-width="0.8" />
<circle cx="106.60" cy="1042.00" r="2.0" fill="none" stroke="#1a1a1a" stroke-width="0.85" />
<circle cx="109.30" cy="1044.50" r="2.0" fill="none" stroke="#1a1a1a" stroke-width="0.85" />
<circle cx="107.80" cy="1047.50" r="2.0" fill="none" stroke="#1a1a1a" stroke-width="0.85" />
<line x1="117.65" y1="1032.30" x2="117.65" y2="1036.80" stroke="#1a1a1a" stroke-width="0.8" />
<line x1="115.45" y1="1032.30" x2="119.85" y2="1032.30" stroke="#1a1a1a" stroke-width="0.8" />
<line x1="115.45" y1="1036.80" x2="119.85" y2="1036.80" stroke="#1a1a1a" stroke-width="0.8" />
<circle cx="116.45" cy="1032.80" r="2.0" fill="none" stroke="#1a1a1a" stroke-width="0.85" />
<circle cx="119.15" cy="1035.30" r="2.0" fill="none" stroke="#1a1a1a" stroke-width="0.85" />
<circle cx="117.65" cy="1038.30" r="2.0" fill="none" stroke="#1a1a1a" stroke-width="0.85" />
<line x1="127.50" y1="1033.60" x2="127.50" y2="1038.10" stroke="#1a1a1a" stroke-width="0.8" />
<line x1="125.30" y1="1033.60" x2="129.70" y2="1033.60" stroke="#1a1a1a" stroke-width="0.8" />
<line x1="125.30" y1="1038.10" x2="129.70" y2="1038.10" stroke="#1a1a1a" stroke-width="0.8" />
<circle cx="126.30" cy="1034.10" r="2.0" fill="none" stroke="#1a1a1a" stroke-width="0.85" />
<circle cx="129.00" cy="1036.60" r="2.0" fill="none" stroke="#1a1a1a" stroke-width="0.85" />
<circle cx="127.50" cy="1039.60" r="2.0" fill="none" stroke="#1a1a1a" stroke-width="0.85" />
<line x1="137.35" y1="1000.00" x2="137.35" y2="1004.50" stroke="#1a1a1a" stroke-width="0.8" />
<line x1="135.15" y1="1000.00" x2="139.55" y2="1000.00" stroke="#1a1a1a" stroke-width="0.8" />
<line x1="135.15" y1="1004.50" x2="139.55" y2="1004.50" stroke="#1a1a1a" stroke-width="0.8" />
<circle cx="136.15" cy="1000.50" r="2.0" fill="none" stroke="#1a1a1a" stroke-width="0.85" />
<circle cx="138.85" cy="1003.00" r="2.0" fill="none" stroke="#1a1a1a" stroke-width="0.85" />
<circle cx="137.35" cy="1006.00" r="2.0" fill="none" stroke="#1a1a1a" stroke-width="0.85" />
<path d="M78.25,1064.00 L78.25,1059.30 L88.10,1059.30 L88.10,1063.10" fill="none" stroke="#333" stroke-width="0.9" />
<text x="83.17" y="1053.00" font-size="10.2" text-anchor="middle" fill="#1a1a1a" stroke="#1a1a1a" stroke-width="0.22" >x1</text>
<path d="M78.25,1041.30 L78.25,1034.80 L97.95,1034.80 L97.95,1057.90" fill="none" stroke="#333" stroke-width="0.9" />
<text x="88.10" y="1028.50" font-size="10.2" text-anchor="middle" fill="#1a1a1a" stroke="#1a1a1a" stroke-width="0.22" >x2</text>
<path d="M78.25,1019.80 L78.25,1013.30 L107.80,1013.30 L107.80,1039.50" fill="none" stroke="#333" stroke-width="0.9" />
<text x="93.03" y="1007.00" font-size="10.2" text-anchor="middle" fill="#1a1a1a" stroke="#1a1a1a" stroke-width="0.22" >x5</text>
<path d="M78.25,1003.60 L78.25,993.60 L117.65,993.60 L117.65,1030.30" fill="none" stroke="#333" stroke-width="0.9" />
<text x="97.95" y="987.30" font-size="10.2" text-anchor="middle" fill="#1a1a1a" stroke="#1a1a1a" stroke-width="0.22" >x6.4</text>
<path d="M78.25,980.20 L78.25,971.20 L127.50,971.20 L127.50,1031.60" fill="none" stroke="#333" stroke-width="0.9" />
<text x="102.88" y="964.90" font-size="10.2" text-anchor="middle" fill="#1a1a1a" stroke="#1a1a1a" stroke-width="0.22" >x6.2</text>
<path d="M78.25,962.00 L78.25,945.50 L137.35,945.50 L137.35,998.00" fill="none" stroke="#333" stroke-width="0.9" />
<text x="107.80" y="939.20" font-size="10.2" text-anchor="middle" fill="#1a1a1a" stroke="#1a1a1a" stroke-width="0.22" >x12</text>
<rect x="150.65" y="1063.20" width="6.40" height="9.20" fill="#ffffff" stroke="#2a2a2a" stroke-width="0.9" />
<rect x="160.50" y="1063.20" width="6.40" height="9.20" fill="#e9f0fa" stroke="#2a2a2a" stroke-width="0.9" />
<rect x="170.35" y="1045.30" width="6.40" height="27.10" fill="#d4e1f5" stroke="#2a2a2a" stroke-width="0.9" />
<rect x="180.20" y="1028.80" width="6.40" height="43.60" fill="#b3c9ec" stroke="#2a2a2a" stroke-width="0.9" />
<rect x="190.05" y="1032.20" width="6.40" height="40.20" fill="#8fb1e1" stroke="#2a2a2a" stroke-width="0.9" />
<rect x="199.90" y="1020.40" width="6.40" height="52.00" fill="#5e94d4" stroke="#2a2a2a" stroke-width="0.9" />
<rect x="209.75" y="988.80" width="6.40" height="83.60" fill="#f0825f" stroke="#2a2a2a" stroke-width="0.9" />
<line x1="153.85" y1="1061.20" x2="153.85" y2="1065.70" stroke="#1a1a1a" stroke-width="0.8" />
<line x1="151.65" y1="1061.20" x2="156.05" y2="1061.20" stroke="#1a1a1a" stroke-width="0.8" />
<line x1="151.65" y1="1065.70" x2="156.05" y2="1065.70" stroke="#1a1a1a" stroke-width="0.8" />
<circle cx="152.65" cy="1061.70" r="2.0" fill="none" stroke="#1a1a1a" stroke-width="0.85" />
<circle cx="155.35" cy="1064.20" r="2.0" fill="none" stroke="#1a1a1a" stroke-width="0.85" />
<circle cx="153.85" cy="1067.20" r="2.0" fill="none" stroke="#1a1a1a" stroke-width="0.85" />
<line x1="163.70" y1="1061.20" x2="163.70" y2="1065.70" stroke="#1a1a1a" stroke-width="0.8" />
<line x1="161.50" y1="1061.20" x2="165.90" y2="1061.20" stroke="#1a1a1a" stroke-width="0.8" />
<line x1="161.50" y1="1065.70" x2="165.90" y2="1065.70" stroke="#1a1a1a" stroke-width="0.8" />
<circle cx="162.50" cy="1061.70" r="2.0" fill="none" stroke="#1a1a1a" stroke-width="0.85" />
<circle cx="165.20" cy="1064.20" r="2.0" fill="none" stroke="#1a1a1a" stroke-width="0.85" />
<circle cx="163.70" cy="1067.20" r="2.0" fill="none" stroke="#1a1a1a" stroke-width="0.85" />
<line x1="173.55" y1="1043.30" x2="173.55" y2="1047.80" stroke="#1a1a1a" stroke-width="0.8" />
<line x1="171.35" y1="1043.30" x2="175.75" y2="1043.30" stroke="#1a1a1a" stroke-width="0.8" />
<line x1="171.35" y1="1047.80" x2="175.75" y2="1047.80" stroke="#1a1a1a" stroke-width="0.8" />
<circle cx="172.35" cy="1043.80" r="2.0" fill="none" stroke="#1a1a1a" stroke-width="0.85" />
<circle cx="175.05" cy="1046.30" r="2.0" fill="none" stroke="#1a1a1a" stroke-width="0.85" />
<circle cx="173.55" cy="1049.30" r="2.0" fill="none" stroke="#1a1a1a" stroke-width="0.85" />
<line x1="183.40" y1="1026.80" x2="183.40" y2="1031.30" stroke="#1a1a1a" stroke-width="0.8" />
<line x1="181.20" y1="1026.80" x2="185.60" y2="1026.80" stroke="#1a1a1a" stroke-width="0.8" />
<line x1="181.20" y1="1031.30" x2="185.60" y2="1031.30" stroke="#1a1a1a" stroke-width="0.8" />
<circle cx="182.20" cy="1027.30" r="2.0" fill="none" stroke="#1a1a1a" stroke-width="0.85" />
<circle cx="184.90" cy="1029.80" r="2.0" fill="none" stroke="#1a1a1a" stroke-width="0.85" />
<circle cx="183.40" cy="1032.80" r="2.0" fill="none" stroke="#1a1a1a" stroke-width="0.85" />
<line x1="193.25" y1="1030.20" x2="193.25" y2="1034.70" stroke="#1a1a1a" stroke-width="0.8" />
<line x1="191.05" y1="1030.20" x2="195.45" y2="1030.20" stroke="#1a1a1a" stroke-width="0.8" />
<line x1="191.05" y1="1034.70" x2="195.45" y2="1034.70" stroke="#1a1a1a" stroke-width="0.8" />
<circle cx="192.05" cy="1030.70" r="2.0" fill="none" stroke="#1a1a1a" stroke-width="0.85" />
<circle cx="194.75" cy="1033.20" r="2.0" fill="none" stroke="#1a1a1a" stroke-width="0.85" />
<circle cx="193.25" cy="1036.20" r="2.0" fill="none" stroke="#1a1a1a" stroke-width="0.85" />
<line x1="203.10" y1="1018.40" x2="203.10" y2="1022.90" stroke="#1a1a1a" stroke-width="0.8" />
<line x1="200.90" y1="1018.40" x2="205.30" y2="1018.40" stroke="#1a1a1a" stroke-width="0.8" />
<line x1="200.90" y1="1022.90" x2="205.30" y2="1022.90" stroke="#1a1a1a" stroke-width="0.8" />
<circle cx="201.90" cy="1018.90" r="2.0" fill="none" stroke="#1a1a1a" stroke-width="0.85" />
<circle cx="204.60" cy="1021.40" r="2.0" fill="none" stroke="#1a1a1a" stroke-width="0.85" />
<circle cx="203.10" cy="1024.40" r="2.0" fill="none" stroke="#1a1a1a" stroke-width="0.85" />
<line x1="212.95" y1="986.80" x2="212.95" y2="991.30" stroke="#1a1a1a" stroke-width="0.8" />
<line x1="210.75" y1="986.80" x2="215.15" y2="986.80" stroke="#1a1a1a" stroke-width="0.8" />
<line x1="210.75" y1="991.30" x2="215.15" y2="991.30" stroke="#1a1a1a" stroke-width="0.8" />
<circle cx="211.75" cy="987.30" r="2.0" fill="none" stroke="#1a1a1a" stroke-width="0.85" />
<circle cx="214.45" cy="989.80" r="2.0" fill="none" stroke="#1a1a1a" stroke-width="0.85" />
<circle cx="212.95" cy="992.80" r="2.0" fill="none" stroke="#1a1a1a" stroke-width="0.85" />
<path d="M153.85,1057.90 L153.85,1053.20 L163.70,1053.20 L163.70,1059.20" fill="none" stroke="#333" stroke-width="0.9" />
<text x="158.78" y="1046.90" font-size="10.2" text-anchor="middle" fill="#1a1a1a" stroke="#1a1a1a" stroke-width="0.22" >x1</text>
<path d="M153.85,1034.70 L153.85,1028.20 L173.55,1028.20 L173.55,1041.30" fill="none" stroke="#333" stroke-width="0.9" />
<text x="163.70" y="1021.90" font-size="10.2" text-anchor="middle" fill="#1a1a1a" stroke="#1a1a1a" stroke-width="0.22" >x2.7</text>
<path d="M153.85,1010.30 L153.85,1003.80 L183.40,1003.80 L183.40,1024.80" fill="none" stroke="#333" stroke-width="0.9" />
<text x="168.62" y="997.50" font-size="10.2" text-anchor="middle" fill="#1a1a1a" stroke="#1a1a1a" stroke-width="0.22" >x4.5</text>
<path d="M153.85,991.00 L153.85,981.00 L193.25,981.00 L193.25,1028.20" fill="none" stroke="#333" stroke-width="0.9" />
<text x="173.55" y="974.70" font-size="10.2" text-anchor="middle" fill="#1a1a1a" stroke="#1a1a1a" stroke-width="0.22" >x4.1</text>
<path d="M153.85,967.60 L153.85,958.60 L203.10,958.60 L203.10,1016.40" fill="none" stroke="#333" stroke-width="0.9" />
<text x="178.48" y="952.30" font-size="10.2" text-anchor="middle" fill="#1a1a1a" stroke="#1a1a1a" stroke-width="0.22" >x5.3</text>
<path d="M153.85,951.50 L153.85,935.00 L212.95,935.00 L212.95,984.80" fill="none" stroke="#333" stroke-width="0.9" />
<text x="183.40" y="928.70" font-size="10.2" text-anchor="middle" fill="#1a1a1a" stroke="#1a1a1a" stroke-width="0.22" >x8.5</text>
<rect x="226.05" y="1056.60" width="6.40" height="15.80" fill="#ffffff" stroke="#2a2a2a" stroke-width="0.9" />
<rect x="235.90" y="1052.70" width="6.40" height="19.70" fill="#e9f0fa" stroke="#2a2a2a" stroke-width="0.9" />
<rect x="245.75" y="1028.20" width="6.40" height="44.20" fill="#d4e1f5" stroke="#2a2a2a" stroke-width="0.9" />
<rect x="255.60" y="1009.30" width="6.40" height="63.10" fill="#b3c9ec" stroke="#2a2a2a" stroke-width="0.9" />
<rect x="265.45" y="1002.00" width="6.40" height="70.40" fill="#8fb1e1" stroke="#2a2a2a" stroke-width="0.9" />
<rect x="275.30" y="1002.50" width="6.40" height="69.90" fill="#5e94d4" stroke="#2a2a2a" stroke-width="0.9" />
<rect x="285.15" y="982.30" width="6.40" height="90.10" fill="#f0825f" stroke="#2a2a2a" stroke-width="0.9" />
<line x1="229.25" y1="1054.60" x2="229.25" y2="1059.10" stroke="#1a1a1a" stroke-width="0.8" />
<line x1="227.05" y1="1054.60" x2="231.45" y2="1054.60" stroke="#1a1a1a" stroke-width="0.8" />
<line x1="227.05" y1="1059.10" x2="231.45" y2="1059.10" stroke="#1a1a1a" stroke-width="0.8" />
<circle cx="228.05" cy="1055.10" r="2.0" fill="none" stroke="#1a1a1a" stroke-width="0.85" />
<circle cx="230.75" cy="1057.60" r="2.0" fill="none" stroke="#1a1a1a" stroke-width="0.85" />
<circle cx="229.25" cy="1060.60" r="2.0" fill="none" stroke="#1a1a1a" stroke-width="0.85" />
<line x1="239.10" y1="1050.70" x2="239.10" y2="1055.20" stroke="#1a1a1a" stroke-width="0.8" />
<line x1="236.90" y1="1050.70" x2="241.30" y2="1050.70" stroke="#1a1a1a" stroke-width="0.8" />
<line x1="236.90" y1="1055.20" x2="241.30" y2="1055.20" stroke="#1a1a1a" stroke-width="0.8" />
<circle cx="237.90" cy="1051.20" r="2.0" fill="none" stroke="#1a1a1a" stroke-width="0.85" />
<circle cx="240.60" cy="1053.70" r="2.0" fill="none" stroke="#1a1a1a" stroke-width="0.85" />
<circle cx="239.10" cy="1056.70" r="2.0" fill="none" stroke="#1a1a1a" stroke-width="0.85" />
<line x1="248.95" y1="1026.20" x2="248.95" y2="1030.70" stroke="#1a1a1a" stroke-width="0.8" />
<line x1="246.75" y1="1026.20" x2="251.15" y2="1026.20" stroke="#1a1a1a" stroke-width="0.8" />
<line x1="246.75" y1="1030.70" x2="251.15" y2="1030.70" stroke="#1a1a1a" stroke-width="0.8" />
<circle cx="247.75" cy="1026.70" r="2.0" fill="none" stroke="#1a1a1a" stroke-width="0.85" />
<circle cx="250.45" cy="1029.20" r="2.0" fill="none" stroke="#1a1a1a" stroke-width="0.85" />
<circle cx="248.95" cy="1032.20" r="2.0" fill="none" stroke="#1a1a1a" stroke-width="0.85" />
<line x1="258.80" y1="1007.30" x2="258.80" y2="1011.80" stroke="#1a1a1a" stroke-width="0.8" />
<line x1="256.60" y1="1007.30" x2="261.00" y2="1007.30" stroke="#1a1a1a" stroke-width="0.8" />
<line x1="256.60" y1="1011.80" x2="261.00" y2="1011.80" stroke="#1a1a1a" stroke-width="0.8" />
<circle cx="257.60" cy="1007.80" r="2.0" fill="none" stroke="#1a1a1a" stroke-width="0.85" />
<circle cx="260.30" cy="1010.30" r="2.0" fill="none" stroke="#1a1a1a" stroke-width="0.85" />
<circle cx="258.80" cy="1013.30" r="2.0" fill="none" stroke="#1a1a1a" stroke-width="0.85" />
<line x1="268.65" y1="1000.00" x2="268.65" y2="1004.50" stroke="#1a1a1a" stroke-width="0.8" />
<line x1="266.45" y1="1000.00" x2="270.85" y2="1000.00" stroke="#1a1a1a" stroke-width="0.8" />
<line x1="266.45" y1="1004.50" x2="270.85" y2="1004.50" stroke="#1a1a1a" stroke-width="0.8" />
<circle cx="267.45" cy="1000.50" r="2.0" fill="none" stroke="#1a1a1a" stroke-width="0.85" />
<circle cx="270.15" cy="1003.00" r="2.0" fill="none" stroke="#1a1a1a" stroke-width="0.85" />
<circle cx="268.65" cy="1006.00" r="2.0" fill="none" stroke="#1a1a1a" stroke-width="0.85" />
<line x1="278.50" y1="1000.50" x2="278.50" y2="1005.00" stroke="#1a1a1a" stroke-width="0.8" />
<line x1="276.30" y1="1000.50" x2="280.70" y2="1000.50" stroke="#1a1a1a" stroke-width="0.8" />
<line x1="276.30" y1="1005.00" x2="280.70" y2="1005.00" stroke="#1a1a1a" stroke-width="0.8" />
<circle cx="277.30" cy="1001.00" r="2.0" fill="none" stroke="#1a1a1a" stroke-width="0.85" />
<circle cx="280.00" cy="1003.50" r="2.0" fill="none" stroke="#1a1a1a" stroke-width="0.85" />
<circle cx="278.50" cy="1006.50" r="2.0" fill="none" stroke="#1a1a1a" stroke-width="0.85" />
<line x1="288.35" y1="980.30" x2="288.35" y2="984.80" stroke="#1a1a1a" stroke-width="0.8" />
<line x1="286.15" y1="980.30" x2="290.55" y2="980.30" stroke="#1a1a1a" stroke-width="0.8" />
<line x1="286.15" y1="984.80" x2="290.55" y2="984.80" stroke="#1a1a1a" stroke-width="0.8" />
<circle cx="287.15" cy="980.80" r="2.0" fill="none" stroke="#1a1a1a" stroke-width="0.85" />
<circle cx="289.85" cy="983.30" r="2.0" fill="none" stroke="#1a1a1a" stroke-width="0.85" />
<circle cx="288.35" cy="986.30" r="2.0" fill="none" stroke="#1a1a1a" stroke-width="0.85" />
<path d="M229.25,1050.50 L229.25,1045.80 L239.10,1045.80 L239.10,1048.70" fill="none" stroke="#333" stroke-width="0.9" />
<text x="234.18" y="1039.50" font-size="10.2" text-anchor="middle" fill="#1a1a1a" stroke="#1a1a1a" stroke-width="0.22" >x1.2</text>
<path d="M229.25,1026.30 L229.25,1019.80 L248.95,1019.80 L248.95,1024.20" fill="none" stroke="#333" stroke-width="0.9" />
<text x="239.10" y="1013.50" font-size="10.2" text-anchor="middle" fill="#1a1a1a" stroke="#1a1a1a" stroke-width="0.22" >x2.6</text>
<path d="M229.25,1001.90 L229.25,995.40 L258.80,995.40 L258.80,1005.30" fill="none" stroke="#333" stroke-width="0.9" />
<text x="244.03" y="989.10" font-size="10.2" text-anchor="middle" fill="#1a1a1a" stroke="#1a1a1a" stroke-width="0.22" >x3.8</text>
<path d="M229.25,983.60 L229.25,973.60 L268.65,973.60 L268.65,998.00" fill="none" stroke="#333" stroke-width="0.9" />
<text x="248.95" y="967.30" font-size="10.2" text-anchor="middle" fill="#1a1a1a" stroke="#1a1a1a" stroke-width="0.22" >x4.1</text>
<path d="M229.25,960.50 L229.25,951.50 L278.50,951.50 L278.50,998.50" fill="none" stroke="#333" stroke-width="0.9" />
<text x="253.88" y="945.20" font-size="10.2" text-anchor="middle" fill="#1a1a1a" stroke="#1a1a1a" stroke-width="0.22" >x4.1</text>
<path d="M229.25,945.40 L229.25,928.90 L288.35,928.90 L288.35,978.30" fill="none" stroke="#333" stroke-width="0.9" />
<text x="258.80" y="922.60" font-size="10.2" text-anchor="middle" fill="#1a1a1a" stroke="#1a1a1a" stroke-width="0.22" >x5.4</text>
<rect x="301.85" y="1017.30" width="6.40" height="55.10" fill="#ffffff" stroke="#2a2a2a" stroke-width="0.9" />
<rect x="311.70" y="1005.00" width="6.40" height="67.40" fill="#e9f0fa" stroke="#2a2a2a" stroke-width="0.9" />
<rect x="321.55" y="978.00" width="6.40" height="94.40" fill="#d4e1f5" stroke="#2a2a2a" stroke-width="0.9" />
<rect x="331.40" y="965.60" width="6.40" height="106.80" fill="#b3c9ec" stroke="#2a2a2a" stroke-width="0.9" />
<rect x="341.25" y="963.40" width="6.40" height="109.00" fill="#8fb1e1" stroke="#2a2a2a" stroke-width="0.9" />
<rect x="351.10" y="964.50" width="6.40" height="107.90" fill="#5e94d4" stroke="#2a2a2a" stroke-width="0.9" />
<rect x="360.95" y="942.00" width="6.40" height="130.40" fill="#f0825f" stroke="#2a2a2a" stroke-width="0.9" />
<line x1="305.05" y1="1015.30" x2="305.05" y2="1019.80" stroke="#1a1a1a" stroke-width="0.8" />
<line x1="302.85" y1="1015.30" x2="307.25" y2="1015.30" stroke="#1a1a1a" stroke-width="0.8" />
<line x1="302.85" y1="1019.80" x2="307.25" y2="1019.80" stroke="#1a1a1a" stroke-width="0.8" />
<circle cx="303.85" cy="1015.80" r="2.0" fill="none" stroke="#1a1a1a" stroke-width="0.85" />
<circle cx="306.55" cy="1018.30" r="2.0" fill="none" stroke="#1a1a1a" stroke-width="0.85" />
<circle cx="305.05" cy="1021.30" r="2.0" fill="none" stroke="#1a1a1a" stroke-width="0.85" />
<line x1="314.90" y1="1003.00" x2="314.90" y2="1007.50" stroke="#1a1a1a" stroke-width="0.8" />
<line x1="312.70" y1="1003.00" x2="317.10" y2="1003.00" stroke="#1a1a1a" stroke-width="0.8" />
<line x1="312.70" y1="1007.50" x2="317.10" y2="1007.50" stroke="#1a1a1a" stroke-width="0.8" />
<circle cx="313.70" cy="1003.50" r="2.0" fill="none" stroke="#1a1a1a" stroke-width="0.85" />
<circle cx="316.40" cy="1006.00" r="2.0" fill="none" stroke="#1a1a1a" stroke-width="0.85" />
<circle cx="314.90" cy="1009.00" r="2.0" fill="none" stroke="#1a1a1a" stroke-width="0.85" />
<line x1="324.75" y1="976.00" x2="324.75" y2="980.50" stroke="#1a1a1a" stroke-width="0.8" />
<line x1="322.55" y1="976.00" x2="326.95" y2="976.00" stroke="#1a1a1a" stroke-width="0.8" />
<line x1="322.55" y1="980.50" x2="326.95" y2="980.50" stroke="#1a1a1a" stroke-width="0.8" />
<circle cx="323.55" cy="976.50" r="2.0" fill="none" stroke="#1a1a1a" stroke-width="0.85" />
<circle cx="326.25" cy="979.00" r="2.0" fill="none" stroke="#1a1a1a" stroke-width="0.85" />
<circle cx="324.75" cy="982.00" r="2.0" fill="none" stroke="#1a1a1a" stroke-width="0.85" />
<line x1="334.60" y1="963.60" x2="334.60" y2="968.10" stroke="#1a1a1a" stroke-width="0.8" />
<line x1="332.40" y1="963.60" x2="336.80" y2="963.60" stroke="#1a1a1a" stroke-width="0.8" />
<line x1="332.40" y1="968.10" x2="336.80" y2="968.10" stroke="#1a1a1a" stroke-width="0.8" />
<circle cx="333.40" cy="964.10" r="2.0" fill="none" stroke="#1a1a1a" stroke-width="0.85" />
<circle cx="336.10" cy="966.60" r="2.0" fill="none" stroke="#1a1a1a" stroke-width="0.85" />
<circle cx="334.60" cy="969.60" r="2.0" fill="none" stroke="#1a1a1a" stroke-width="0.85" />
<line x1="344.45" y1="961.40" x2="344.45" y2="965.90" stroke="#1a1a1a" stroke-width="0.8" />
<line x1="342.25" y1="961.40" x2="346.65" y2="961.40" stroke="#1a1a1a" stroke-width="0.8" />
<line x1="342.25" y1="965.90" x2="346.65" y2="965.90" stroke="#1a1a1a" stroke-width="0.8" />
<circle cx="343.25" cy="961.90" r="2.0" fill="none" stroke="#1a1a1a" stroke-width="0.85" />
<circle cx="345.95" cy="964.40" r="2.0" fill="none" stroke="#1a1a1a" stroke-width="0.85" />
<circle cx="344.45" cy="967.40" r="2.0" fill="none" stroke="#1a1a1a" stroke-width="0.85" />
<line x1="354.30" y1="962.50" x2="354.30" y2="967.00" stroke="#1a1a1a" stroke-width="0.8" />
<line x1="352.10" y1="962.50" x2="356.50" y2="962.50" stroke="#1a1a1a" stroke-width="0.8" />
<line x1="352.10" y1="967.00" x2="356.50" y2="967.00" stroke="#1a1a1a" stroke-width="0.8" />
<circle cx="353.10" cy="963.00" r="2.0" fill="none" stroke="#1a1a1a" stroke-width="0.85" />
<circle cx="355.80" cy="965.50" r="2.0" fill="none" stroke="#1a1a1a" stroke-width="0.85" />
<circle cx="354.30" cy="968.50" r="2.0" fill="none" stroke="#1a1a1a" stroke-width="0.85" />
<line x1="364.15" y1="940.00" x2="364.15" y2="944.50" stroke="#1a1a1a" stroke-width="0.8" />
<line x1="361.95" y1="940.00" x2="366.35" y2="940.00" stroke="#1a1a1a" stroke-width="0.8" />
<line x1="361.95" y1="944.50" x2="366.35" y2="944.50" stroke="#1a1a1a" stroke-width="0.8" />
<circle cx="362.95" cy="940.50" r="2.0" fill="none" stroke="#1a1a1a" stroke-width="0.85" />
<circle cx="365.65" cy="943.00" r="2.0" fill="none" stroke="#1a1a1a" stroke-width="0.85" />
<circle cx="364.15" cy="946.00" r="2.0" fill="none" stroke="#1a1a1a" stroke-width="0.85" />
<path d="M305.05,1004.50 L305.05,999.80 L314.90,999.80 L314.90,1001.00" fill="none" stroke="#333" stroke-width="0.9" />
<text x="309.98" y="993.50" font-size="10.2" text-anchor="middle" fill="#1a1a1a" stroke="#1a1a1a" stroke-width="0.22" >x1.2</text>
<path d="M305.05,979.50 L305.05,973.00 L324.75,973.00 L324.75,974.00" fill="none" stroke="#333" stroke-width="0.9" />
<text x="314.90" y="966.70" font-size="10.2" text-anchor="middle" fill="#1a1a1a" stroke="#1a1a1a" stroke-width="0.22" >x1.7</text>
<path d="M305.05,956.90 L305.05,950.40 L334.60,950.40 L334.60,961.60" fill="none" stroke="#333" stroke-width="0.9" />
<text x="319.83" y="944.10" font-size="10.2" text-anchor="middle" fill="#1a1a1a" stroke="#1a1a1a" stroke-width="0.22" >x2</text>
<path d="M305.05,941.30 L305.05,931.30 L344.45,931.30 L344.45,959.40" fill="none" stroke="#333" stroke-width="0.9" />
<text x="324.75" y="925.00" font-size="10.2" text-anchor="middle" fill="#1a1a1a" stroke="#1a1a1a" stroke-width="0.22" >x2</text>
<path d="M305.05,921.90 L305.05,912.90 L354.30,912.90 L354.30,960.50" fill="none" stroke="#333" stroke-width="0.9" />
<text x="329.68" y="906.60" font-size="10.2" text-anchor="middle" fill="#1a1a1a" stroke="#1a1a1a" stroke-width="0.22" >x2</text>
<path d="M305.05,910.30 L305.05,893.80 L364.15,893.80 L364.15,938.00" fill="none" stroke="#333" stroke-width="0.9" />
<text x="334.60" y="887.50" font-size="10.2" text-anchor="middle" fill="#1a1a1a" stroke="#1a1a1a" stroke-width="0.22" >x2.4</text>
<line x1="68.80" y1="1072.40" x2="373.30" y2="1072.40" stroke="#1a1a1a" stroke-width="1.4" />
<line x1="107.20" y1="1072.40" x2="107.20" y2="1078.00" stroke="#1a1a1a" stroke-width="1.4" />
<text x="107.20" y="1090.20" font-size="10.8" font-weight="bold" text-anchor="middle" fill="#1a1a1a" stroke="#1a1a1a" stroke-width="0.22" >15 min</text>
<line x1="182.80" y1="1072.40" x2="182.80" y2="1078.00" stroke="#1a1a1a" stroke-width="1.4" />
<text x="182.80" y="1090.20" font-size="10.8" font-weight="bold" text-anchor="middle" fill="#1a1a1a" stroke="#1a1a1a" stroke-width="0.22" >30 min</text>
<line x1="258.20" y1="1072.40" x2="258.20" y2="1078.00" stroke="#1a1a1a" stroke-width="1.4" />
<text x="258.20" y="1090.20" font-size="10.8" font-weight="bold" text-anchor="middle" fill="#1a1a1a" stroke="#1a1a1a" stroke-width="0.22" >1 h</text>
<line x1="334.00" y1="1072.40" x2="334.00" y2="1078.00" stroke="#1a1a1a" stroke-width="1.4" />
<text x="334.00" y="1090.20" font-size="10.8" font-weight="bold" text-anchor="middle" fill="#1a1a1a" stroke="#1a1a1a" stroke-width="0.22" >4 h</text>
<text x="221.50" y="1109.00" font-size="11.5" font-weight="bold" text-anchor="middle" fill="#1a1a1a" stroke="#1a1a1a" stroke-width="0.22" >Time (post-stimulation)</text>
<text transform="translate(30.60,1000.10) rotate(-90)" font-size="11.8" font-weight="bold" text-anchor="middle" fill="#1a1a1a" stroke="#1a1a1a" stroke-width="0.22">NanoLuc (RLU)</text>
<rect x="496.50" y="880.40" width="31.73" height="31.92" fill="#e33d2f" stroke="none" stroke-width="1" />
<rect x="527.92" y="880.40" width="31.73" height="31.92" fill="#ea6567" stroke="none" stroke-width="1" />
<rect x="559.35" y="880.40" width="31.73" height="31.92" fill="#eb9497" stroke="none" stroke-width="1" />
<rect x="590.78" y="880.40" width="31.73" height="31.92" fill="#e8c9cb" stroke="none" stroke-width="1" />
<rect x="496.50" y="912.02" width="31.73" height="31.92" fill="#ee8789" stroke="none" stroke-width="1" />
<rect x="527.92" y="912.02" width="31.73" height="31.92" fill="#eb9598" stroke="none" stroke-width="1" />
<rect x="559.35" y="912.02" width="31.73" height="31.92" fill="#ebaeb1" stroke="none" stroke-width="1" />
<rect x="590.78" y="912.02" width="31.73" height="31.92" fill="#e6d4d5" stroke="none" stroke-width="1" />
<rect x="496.50" y="943.63" width="31.73" height="31.92" fill="#ed8385" stroke="none" stroke-width="1" />
<rect x="527.92" y="943.63" width="31.73" height="31.92" fill="#eab0b2" stroke="none" stroke-width="1" />
<rect x="559.35" y="943.63" width="31.73" height="31.92" fill="#ebabae" stroke="none" stroke-width="1" />
<rect x="590.78" y="943.63" width="31.73" height="31.92" fill="#e6d5d6" stroke="none" stroke-width="1" />
<rect x="496.50" y="975.25" width="31.73" height="31.92" fill="#eb9fa2" stroke="none" stroke-width="1" />
<rect x="527.92" y="975.25" width="31.73" height="31.92" fill="#eaa1a4" stroke="none" stroke-width="1" />
<rect x="559.35" y="975.25" width="31.73" height="31.92" fill="#e9b3b5" stroke="none" stroke-width="1" />
<rect x="590.78" y="975.25" width="31.73" height="31.92" fill="#e6d6d7" stroke="none" stroke-width="1" />
<rect x="496.50" y="1006.87" width="31.73" height="31.92" fill="#e6d3d4" stroke="none" stroke-width="1" />
<rect x="527.92" y="1006.87" width="31.73" height="31.92" fill="#e9c3c5" stroke="none" stroke-width="1" />
<rect x="559.35" y="1006.87" width="31.73" height="31.92" fill="#e8c5c6" stroke="none" stroke-width="1" />
<rect x="590.78" y="1006.87" width="31.73" height="31.92" fill="#e6d6d7" stroke="none" stroke-width="1" />
<rect x="496.50" y="1038.48" width="31.73" height="31.92" fill="#e3e3e3" stroke="none" stroke-width="1" />
<rect x="527.92" y="1038.48" width="31.73" height="31.92" fill="#e3e3e3" stroke="none" stroke-width="1" />
<rect x="559.35" y="1038.48" width="31.73" height="31.92" fill="#e4dfe0" stroke="none" stroke-width="1" />
<rect x="590.78" y="1038.48" width="31.73" height="31.92" fill="#e4dfe0" stroke="none" stroke-width="1" />
<rect x="496.50" y="880.40" width="125.70" height="189.70" fill="none" stroke="#333" stroke-width="1" />
<line x1="491.00" y1="896.21" x2="496.50" y2="896.21" stroke="#333" stroke-width="1" />
<text x="489.00" y="898.90" font-size="9.6" font-weight="bold" text-anchor="end" fill="#1a1a1a" stroke="#1a1a1a" stroke-width="0.22" >20 mM KCl</text>
<text x="490.40" y="911.50" font-size="9.1" text-anchor="end" fill="#1a1a1a" stroke="#1a1a1a" stroke-width="0.22" >(positive control)</text>
<line x1="491.00" y1="927.82" x2="496.50" y2="927.82" stroke="#333" stroke-width="1" />
<text x="489.00" y="931.32" font-size="9.6" font-weight="bold" text-anchor="end" fill="#1a1a1a" stroke="#1a1a1a" stroke-width="0.22" >2 µM Grazoprevir</text>
<line x1="491.00" y1="959.44" x2="496.50" y2="959.44" stroke="#333" stroke-width="1" />
<text x="489.00" y="962.94" font-size="9.6" font-weight="bold" text-anchor="end" fill="#1a1a1a" stroke="#1a1a1a" stroke-width="0.22" >0.5 µM Grazoprevir</text>
<line x1="491.00" y1="991.06" x2="496.50" y2="991.06" stroke="#333" stroke-width="1" />
<text x="489.00" y="994.56" font-size="9.6" font-weight="bold" text-anchor="end" fill="#1a1a1a" stroke="#1a1a1a" stroke-width="0.22" >0.05 µM Grazoprevir</text>
<line x1="491.00" y1="1022.67" x2="496.50" y2="1022.67" stroke="#333" stroke-width="1" />
<text x="489.00" y="1026.17" font-size="9.6" font-weight="bold" text-anchor="end" fill="#1a1a1a" stroke="#1a1a1a" stroke-width="0.22" >0.01 µM Grazoprevir</text>
<line x1="491.00" y1="1054.29" x2="496.50" y2="1054.29" stroke="#333" stroke-width="1" />
<text x="489.00" y="1057.79" font-size="9.6" font-weight="bold" text-anchor="end" fill="#1a1a1a" stroke="#1a1a1a" stroke-width="0.22" >0.001 µM Grazoprevir</text>
<line x1="512.21" y1="1070.10" x2="512.21" y2="1074.00" stroke="#333" stroke-width="1" />
<text transform="translate(515.01,1081.50) rotate(-45)" font-size="10" font-weight="bold" text-anchor="end" fill="#1a1a1a" stroke="#1a1a1a" stroke-width="0.22">15min</text>
<line x1="543.64" y1="1070.10" x2="543.64" y2="1074.00" stroke="#333" stroke-width="1" />
<text transform="translate(546.44,1081.50) rotate(-45)" font-size="10" font-weight="bold" text-anchor="end" fill="#1a1a1a" stroke="#1a1a1a" stroke-width="0.22">30min</text>
<line x1="575.06" y1="1070.10" x2="575.06" y2="1074.00" stroke="#333" stroke-width="1" />
<text transform="translate(577.86,1081.50) rotate(-45)" font-size="10" font-weight="bold" text-anchor="end" fill="#1a1a1a" stroke="#1a1a1a" stroke-width="0.22">1h</text>
<line x1="606.49" y1="1070.10" x2="606.49" y2="1074.00" stroke="#333" stroke-width="1" />
<text transform="translate(609.29,1081.50) rotate(-45)" font-size="10" font-weight="bold" text-anchor="end" fill="#1a1a1a" stroke="#1a1a1a" stroke-width="0.22">4h</text>
<defs><linearGradient id="cb" x1="0" y1="0" x2="0" y2="1"><stop offset="0" stop-color="#e5392b"/><stop offset="0.5" stop-color="#ec8f90"/><stop offset="1" stop-color="#e3e3e3"/></linearGradient></defs>
<rect x="638.60" y="880.40" width="15.60" height="189.10" fill="url(#cb)" stroke="#333" stroke-width="1" />
<line x1="651.80" y1="914.80" x2="654.20" y2="914.80" stroke="#333" stroke-width="1" />
<line x1="638.60" y1="914.80" x2="641.00" y2="914.80" stroke="#333" stroke-width="1" />
<text x="660.50" y="918.80" font-size="11" text-anchor="start" fill="#1a1a1a" stroke="#1a1a1a" stroke-width="0.22" >10</text>
<line x1="651.80" y1="1000.70" x2="654.20" y2="1000.70" stroke="#333" stroke-width="1" />
<line x1="638.60" y1="1000.70" x2="641.00" y2="1000.70" stroke="#333" stroke-width="1" />
<text x="660.50" y="1004.70" font-size="11" text-anchor="start" fill="#1a1a1a" stroke="#1a1a1a" stroke-width="0.22" >5</text>
<text transform="translate(679.30,962.30) rotate(90)" font-size="9.3" font-weight="bold" text-anchor="middle" fill="#1a1a1a" stroke="#1a1a1a" stroke-width="0.22">Fold change</text>
</svg>
</body></html>
